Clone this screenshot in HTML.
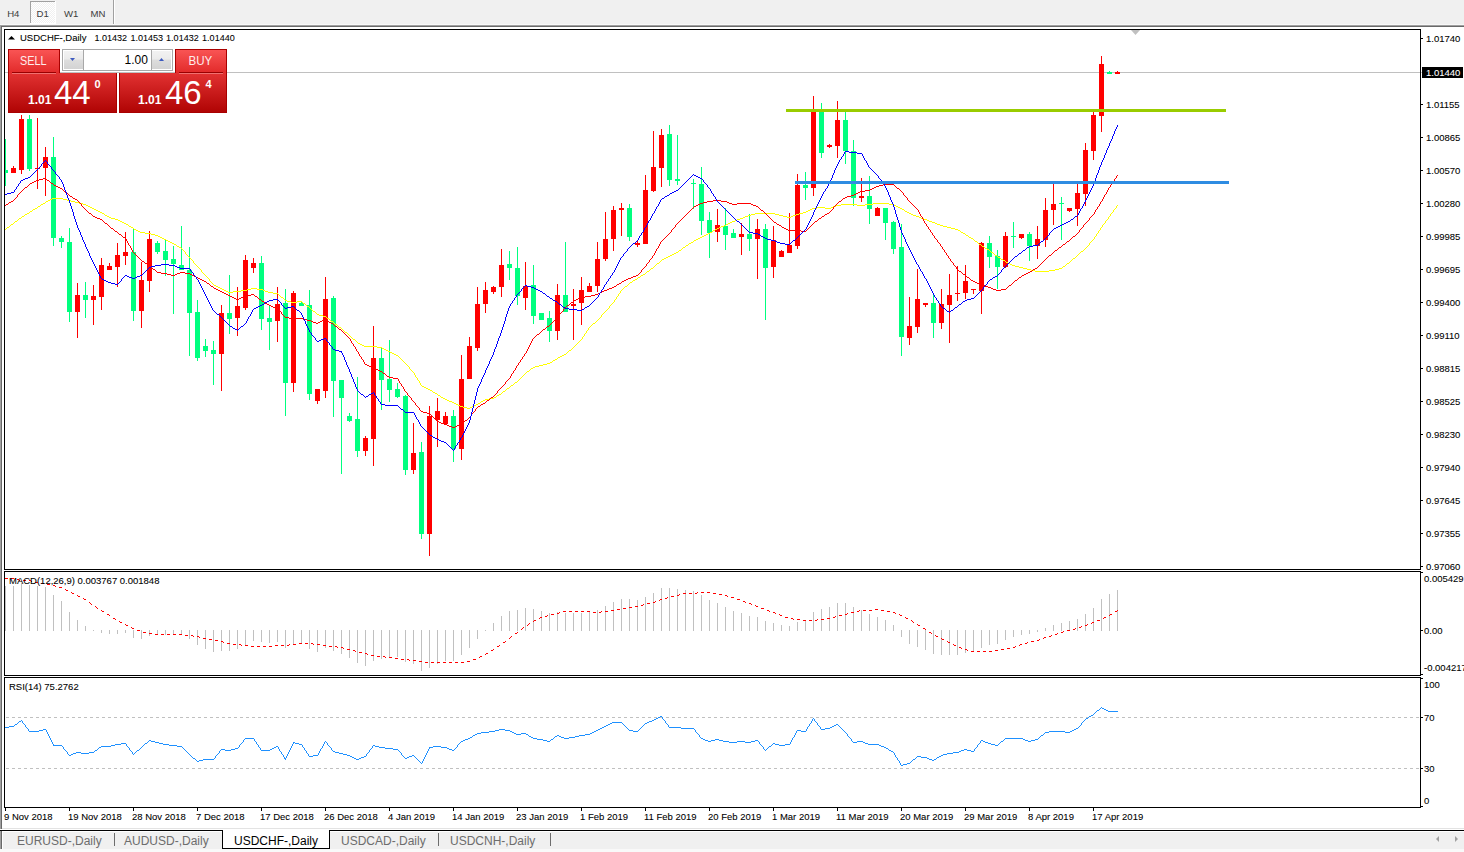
<!DOCTYPE html><html><head><meta charset="utf-8"><style>html,body{margin:0;padding:0;background:#fff;overflow:hidden}svg{display:block}text{font-family:"Liberation Sans", Arial, sans-serif}.s{font-size:9.8px;fill:#000;stroke:#000;stroke-width:0.08px}.w{fill:#fff;stroke:#fff}</style></head><body>
<svg width="1464" height="852" viewBox="0 0 1464 852" shape-rendering="crispEdges">
<defs><clipPath id="cm"><rect x="5" y="30" width="1415" height="539"/></clipPath><clipPath id="cmacd"><rect x="5" y="572" width="1415" height="103"/></clipPath><clipPath id="crsi"><rect x="5" y="678" width="1415" height="129"/></clipPath><linearGradient id="gtab" x1="0" y1="0" x2="0" y2="1"><stop offset="0" stop-color="#f95454"/><stop offset="1" stop-color="#e22a2a"/></linearGradient><linearGradient id="gblk" x1="0" y1="0" x2="0" y2="1"><stop offset="0" stop-color="#e23232"/><stop offset="1" stop-color="#b00404"/></linearGradient><linearGradient id="gbtn" x1="0" y1="0" x2="0" y2="1"><stop offset="0" stop-color="#f2f2f2"/><stop offset="0.45" stop-color="#ebebeb"/><stop offset="0.5" stop-color="#dddddd"/><stop offset="1" stop-color="#d3d3d3"/></linearGradient><pattern id="dith" x="0" y="0" width="2" height="2" patternUnits="userSpaceOnUse"><rect width="2" height="2" fill="#f0f0f0"/><rect x="0" y="0" width="1" height="1" fill="#fff"/><rect x="1" y="1" width="1" height="1" fill="#fff"/></pattern></defs>
<rect x="0" y="0" width="1464" height="24" fill="#f0f0f0"/>
<rect x="0" y="24" width="1464" height="1" fill="#f8f8f8"/>
<rect x="0" y="25" width="1464" height="1" fill="#a0a0a0"/>
<rect x="0" y="26" width="1464" height="1" fill="#696969"/>
<rect x="30" y="1" width="26" height="23" fill="#ffffff"/>
<rect x="31" y="2" width="24" height="21" fill="url(#dith)"/>
<rect x="30" y="1" width="25" height="1" fill="#a0a0a0"/>
<rect x="30" y="1" width="1" height="22" fill="#a0a0a0"/>
<rect x="113" y="0" width="1" height="24" fill="#a0a0a0"/>
<rect x="114" y="0" width="1" height="24" fill="#ffffff"/>
<text x="7.2" y="17" font-size="9.6" fill="#3c3c3c">H4</text>
<text x="36.6" y="17" font-size="9.6" fill="#3c3c3c">D1</text>
<text x="64" y="17" font-size="9.6" fill="#3c3c3c">W1</text>
<text x="90.4" y="17" font-size="9.6" fill="#3c3c3c">MN</text>
<rect x="0" y="25" width="1" height="804" fill="#a0a0a0"/>
<rect x="1" y="26" width="1" height="803" fill="#696969"/>
<rect x="4.5" y="29.5" width="1416" height="540" fill="none" stroke="#000" stroke-width="1"/>
<rect x="4.5" y="571.5" width="1416" height="104" fill="none" stroke="#000" stroke-width="1"/>
<rect x="4.5" y="677.5" width="1416" height="130" fill="none" stroke="#000" stroke-width="1"/>
<rect x="1421" y="38" width="2" height="1" fill="#000"/>
<text transform="translate(1426,42) scale(0.97,1)" class="s">1.01740</text>
<rect x="1421" y="104" width="2" height="1" fill="#000"/>
<text transform="translate(1426,108) scale(0.97,1)" class="s">1.01155</text>
<rect x="1421" y="137" width="2" height="1" fill="#000"/>
<text transform="translate(1426,141) scale(0.97,1)" class="s">1.00865</text>
<rect x="1421" y="170" width="2" height="1" fill="#000"/>
<text transform="translate(1426,174) scale(0.97,1)" class="s">1.00570</text>
<rect x="1421" y="203" width="2" height="1" fill="#000"/>
<text transform="translate(1426,207) scale(0.97,1)" class="s">1.00280</text>
<rect x="1421" y="236" width="2" height="1" fill="#000"/>
<text transform="translate(1426,240) scale(0.97,1)" class="s">0.99985</text>
<rect x="1421" y="269" width="2" height="1" fill="#000"/>
<text transform="translate(1426,273) scale(0.97,1)" class="s">0.99695</text>
<rect x="1421" y="302" width="2" height="1" fill="#000"/>
<text transform="translate(1426,306) scale(0.97,1)" class="s">0.99400</text>
<rect x="1421" y="335" width="2" height="1" fill="#000"/>
<text transform="translate(1426,339) scale(0.97,1)" class="s">0.99110</text>
<rect x="1421" y="368" width="2" height="1" fill="#000"/>
<text transform="translate(1426,372) scale(0.97,1)" class="s">0.98815</text>
<rect x="1421" y="401" width="2" height="1" fill="#000"/>
<text transform="translate(1426,405) scale(0.97,1)" class="s">0.98525</text>
<rect x="1421" y="434" width="2" height="1" fill="#000"/>
<text transform="translate(1426,438) scale(0.97,1)" class="s">0.98230</text>
<rect x="1421" y="467" width="2" height="1" fill="#000"/>
<text transform="translate(1426,471) scale(0.97,1)" class="s">0.97940</text>
<rect x="1421" y="500" width="2" height="1" fill="#000"/>
<text transform="translate(1426,504) scale(0.97,1)" class="s">0.97645</text>
<rect x="1421" y="533" width="2" height="1" fill="#000"/>
<text transform="translate(1426,537) scale(0.97,1)" class="s">0.97355</text>
<rect x="1421" y="566" width="2" height="1" fill="#000"/>
<text transform="translate(1426,570) scale(0.97,1)" class="s">0.97060</text>
<rect x="1422" y="67" width="41" height="11" fill="#000"/>
<text transform="translate(1426,76) scale(0.97,1)" class="s w">1.01440</text>
<rect x="1421" y="72" width="1" height="1" fill="#c0c0c0"/>
<rect x="1421" y="572" width="2" height="1" fill="#000"/>
<rect x="1421" y="630" width="2" height="1" fill="#000"/>
<rect x="1421" y="674" width="2" height="1" fill="#000"/>
<text transform="translate(1424,582) scale(0.97,1)" class="s">0.005429</text>
<text transform="translate(1424,634) scale(0.97,1)" class="s">0.00</text>
<text transform="translate(1424,671) scale(0.97,1)" class="s">-0.004217</text>
<rect x="1421" y="678" width="2" height="1" fill="#000"/>
<text transform="translate(1424,688) scale(0.97,1)" class="s">100</text>
<rect x="1421" y="717" width="2" height="1" fill="#000"/>
<text transform="translate(1424,721) scale(0.97,1)" class="s">70</text>
<rect x="1421" y="768" width="2" height="1" fill="#000"/>
<text transform="translate(1424,772) scale(0.97,1)" class="s">30</text>
<rect x="1421" y="806" width="2" height="1" fill="#000"/>
<text transform="translate(1424,804) scale(0.97,1)" class="s">0</text>
<rect x="5" y="808" width="1" height="3" fill="#000"/>
<text transform="translate(4,820) scale(0.97,1)" class="s">9 Nov 2018</text>
<rect x="69" y="808" width="1" height="3" fill="#000"/>
<text transform="translate(68,820) scale(0.97,1)" class="s">19 Nov 2018</text>
<rect x="133" y="808" width="1" height="3" fill="#000"/>
<text transform="translate(132,820) scale(0.97,1)" class="s">28 Nov 2018</text>
<rect x="197" y="808" width="1" height="3" fill="#000"/>
<text transform="translate(196,820) scale(0.97,1)" class="s">7 Dec 2018</text>
<rect x="261" y="808" width="1" height="3" fill="#000"/>
<text transform="translate(260,820) scale(0.97,1)" class="s">17 Dec 2018</text>
<rect x="325" y="808" width="1" height="3" fill="#000"/>
<text transform="translate(324,820) scale(0.97,1)" class="s">26 Dec 2018</text>
<rect x="389" y="808" width="1" height="3" fill="#000"/>
<text transform="translate(388,820) scale(0.97,1)" class="s">4 Jan 2019</text>
<rect x="453" y="808" width="1" height="3" fill="#000"/>
<text transform="translate(452,820) scale(0.97,1)" class="s">14 Jan 2019</text>
<rect x="517" y="808" width="1" height="3" fill="#000"/>
<text transform="translate(516,820) scale(0.97,1)" class="s">23 Jan 2019</text>
<rect x="581" y="808" width="1" height="3" fill="#000"/>
<text transform="translate(580,820) scale(0.97,1)" class="s">1 Feb 2019</text>
<rect x="645" y="808" width="1" height="3" fill="#000"/>
<text transform="translate(644,820) scale(0.97,1)" class="s">11 Feb 2019</text>
<rect x="709" y="808" width="1" height="3" fill="#000"/>
<text transform="translate(708,820) scale(0.97,1)" class="s">20 Feb 2019</text>
<rect x="773" y="808" width="1" height="3" fill="#000"/>
<text transform="translate(772,820) scale(0.97,1)" class="s">1 Mar 2019</text>
<rect x="837" y="808" width="1" height="3" fill="#000"/>
<text transform="translate(836,820) scale(0.97,1)" class="s">11 Mar 2019</text>
<rect x="901" y="808" width="1" height="3" fill="#000"/>
<text transform="translate(900,820) scale(0.97,1)" class="s">20 Mar 2019</text>
<rect x="965" y="808" width="1" height="3" fill="#000"/>
<text transform="translate(964,820) scale(0.97,1)" class="s">29 Mar 2019</text>
<rect x="1029" y="808" width="1" height="3" fill="#000"/>
<text transform="translate(1028,820) scale(0.97,1)" class="s">8 Apr 2019</text>
<rect x="1093" y="808" width="1" height="3" fill="#000"/>
<text transform="translate(1092,820) scale(0.97,1)" class="s">17 Apr 2019</text>
<rect x="2" y="828" width="1464" height="1" fill="#e3e3e3"/>
<rect x="0" y="829" width="1464" height="1" fill="#ffffff"/>
<rect x="0" y="830" width="1464" height="1" fill="#000"/>
<rect x="0" y="831" width="1464" height="18" fill="#f0f0f0"/>
<rect x="0" y="849" width="1464" height="3" fill="#f9f9f9"/>
<rect x="0" y="831" width="1" height="18" fill="#a0a0a0"/>
<rect x="1" y="831" width="1" height="18" fill="#696969"/>
<rect x="2" y="831" width="1" height="18" fill="#ffffff"/>
<rect x="2" y="831" width="1464" height="1" fill="#ffffff"/>
<rect x="222" y="830" width="108" height="19" fill="#000"/>
<rect x="223" y="830" width="106" height="18" fill="#ffffff"/>
<text x="17" y="845" font-size="12" fill="#6d6d6d">EURUSD-,Daily</text>
<text x="124" y="845" font-size="12" fill="#6d6d6d">AUDUSD-,Daily</text>
<text x="234" y="845" font-size="12" fill="#000">USDCHF-,Daily</text>
<text x="341" y="845" font-size="12" fill="#6d6d6d">USDCAD-,Daily</text>
<text x="450" y="845" font-size="12" fill="#6d6d6d">USDCNH-,Daily</text>
<rect x="114" y="833" width="1" height="13" fill="#6d6d6d"/>
<rect x="438" y="833" width="1" height="13" fill="#6d6d6d"/>
<rect x="550" y="833" width="1" height="13" fill="#6d6d6d"/>
<path d="M1439,836 L1436,839 L1439,842 Z" fill="#a0a0a0" shape-rendering="auto"/>
<path d="M1455,836 L1458,839 L1455,842 Z" fill="#a0a0a0" shape-rendering="auto"/>
<g clip-path="url(#cm)">
<rect x="5" y="72" width="1415" height="1" fill="#c0c0c0"/>
<path d="M1131,30 L1140,30 L1135.5,35 Z" fill="#c0c0c0" shape-rendering="auto"/>
<rect x="5" y="139" width="1" height="47" fill="#00ff7f"/>
<rect x="3" y="170" width="5" height="3" fill="#00ff7f"/>
<rect x="13" y="166" width="1" height="7" fill="#ff0000"/>
<rect x="11" y="168" width="5" height="5" fill="#ff0000"/>
<rect x="21" y="115" width="1" height="59" fill="#ff0000"/>
<rect x="19" y="119" width="5" height="51" fill="#ff0000"/>
<rect x="29" y="115" width="1" height="56" fill="#00ff7f"/>
<rect x="27" y="119" width="5" height="50" fill="#00ff7f"/>
<rect x="37" y="118" width="1" height="71" fill="#ff0000"/>
<rect x="35" y="168" width="5" height="1" fill="#ff0000"/>
<rect x="45" y="147" width="1" height="49" fill="#ff0000"/>
<rect x="43" y="157" width="5" height="11" fill="#ff0000"/>
<rect x="53" y="137" width="1" height="109" fill="#00ff7f"/>
<rect x="51" y="157" width="5" height="81" fill="#00ff7f"/>
<rect x="61" y="236" width="1" height="12" fill="#00ff7f"/>
<rect x="59" y="238" width="5" height="4" fill="#00ff7f"/>
<rect x="69" y="228" width="1" height="94" fill="#00ff7f"/>
<rect x="67" y="242" width="5" height="70" fill="#00ff7f"/>
<rect x="77" y="283" width="1" height="55" fill="#ff0000"/>
<rect x="75" y="295" width="5" height="17" fill="#ff0000"/>
<rect x="85" y="282" width="1" height="36" fill="#00ff7f"/>
<rect x="83" y="295" width="5" height="5" fill="#00ff7f"/>
<rect x="93" y="285" width="1" height="40" fill="#ff0000"/>
<rect x="91" y="296" width="5" height="4" fill="#ff0000"/>
<rect x="101" y="258" width="1" height="52" fill="#ff0000"/>
<rect x="99" y="265" width="5" height="32" fill="#ff0000"/>
<rect x="109" y="263" width="1" height="7" fill="#ff0000"/>
<rect x="107" y="266" width="5" height="4" fill="#ff0000"/>
<rect x="117" y="243" width="1" height="44" fill="#ff0000"/>
<rect x="115" y="255" width="5" height="12" fill="#ff0000"/>
<rect x="125" y="232" width="1" height="33" fill="#ff0000"/>
<rect x="123" y="252" width="5" height="4" fill="#ff0000"/>
<rect x="133" y="229" width="1" height="92" fill="#00ff7f"/>
<rect x="131" y="252" width="5" height="59" fill="#00ff7f"/>
<rect x="141" y="262" width="1" height="66" fill="#ff0000"/>
<rect x="139" y="280" width="5" height="31" fill="#ff0000"/>
<rect x="149" y="231" width="1" height="61" fill="#ff0000"/>
<rect x="147" y="239" width="5" height="42" fill="#ff0000"/>
<rect x="157" y="241" width="1" height="13" fill="#00ff7f"/>
<rect x="155" y="243" width="5" height="9" fill="#00ff7f"/>
<rect x="165" y="240" width="1" height="36" fill="#00ff7f"/>
<rect x="163" y="251" width="5" height="9" fill="#00ff7f"/>
<rect x="173" y="246" width="1" height="68" fill="#00ff7f"/>
<rect x="171" y="259" width="5" height="5" fill="#00ff7f"/>
<rect x="181" y="226" width="1" height="44" fill="#00ff7f"/>
<rect x="179" y="265" width="5" height="5" fill="#00ff7f"/>
<rect x="189" y="247" width="1" height="109" fill="#00ff7f"/>
<rect x="187" y="270" width="5" height="43" fill="#00ff7f"/>
<rect x="197" y="300" width="1" height="61" fill="#00ff7f"/>
<rect x="195" y="312" width="5" height="46" fill="#00ff7f"/>
<rect x="205" y="339" width="1" height="18" fill="#00ff7f"/>
<rect x="203" y="346" width="5" height="5" fill="#00ff7f"/>
<rect x="213" y="341" width="1" height="44" fill="#00ff7f"/>
<rect x="211" y="350" width="5" height="4" fill="#00ff7f"/>
<rect x="221" y="305" width="1" height="86" fill="#ff0000"/>
<rect x="219" y="313" width="5" height="41" fill="#ff0000"/>
<rect x="229" y="275" width="1" height="59" fill="#00ff7f"/>
<rect x="227" y="313" width="5" height="6" fill="#00ff7f"/>
<rect x="237" y="287" width="1" height="49" fill="#ff0000"/>
<rect x="235" y="306" width="5" height="12" fill="#ff0000"/>
<rect x="245" y="255" width="1" height="55" fill="#ff0000"/>
<rect x="243" y="260" width="5" height="48" fill="#ff0000"/>
<rect x="253" y="258" width="1" height="15" fill="#ff0000"/>
<rect x="251" y="263" width="5" height="5" fill="#ff0000"/>
<rect x="261" y="256" width="1" height="74" fill="#00ff7f"/>
<rect x="259" y="263" width="5" height="56" fill="#00ff7f"/>
<rect x="269" y="306" width="1" height="44" fill="#00ff7f"/>
<rect x="267" y="318" width="5" height="4" fill="#00ff7f"/>
<rect x="277" y="287" width="1" height="55" fill="#ff0000"/>
<rect x="275" y="304" width="5" height="17" fill="#ff0000"/>
<rect x="285" y="289" width="1" height="127" fill="#00ff7f"/>
<rect x="283" y="303" width="5" height="80" fill="#00ff7f"/>
<rect x="293" y="291" width="1" height="101" fill="#ff0000"/>
<rect x="291" y="293" width="5" height="90" fill="#ff0000"/>
<rect x="301" y="301" width="1" height="5" fill="#00ff7f"/>
<rect x="299" y="303" width="5" height="3" fill="#00ff7f"/>
<rect x="309" y="290" width="1" height="110" fill="#00ff7f"/>
<rect x="307" y="305" width="5" height="89" fill="#00ff7f"/>
<rect x="317" y="389" width="1" height="15" fill="#ff0000"/>
<rect x="315" y="389" width="5" height="12" fill="#ff0000"/>
<rect x="325" y="277" width="1" height="121" fill="#ff0000"/>
<rect x="323" y="299" width="5" height="92" fill="#ff0000"/>
<rect x="333" y="296" width="1" height="121" fill="#00ff7f"/>
<rect x="331" y="298" width="5" height="83" fill="#00ff7f"/>
<rect x="341" y="380" width="1" height="94" fill="#00ff7f"/>
<rect x="339" y="380" width="5" height="18" fill="#00ff7f"/>
<rect x="349" y="413" width="1" height="9" fill="#00ff7f"/>
<rect x="347" y="416" width="5" height="5" fill="#00ff7f"/>
<rect x="357" y="377" width="1" height="80" fill="#00ff7f"/>
<rect x="355" y="419" width="5" height="32" fill="#00ff7f"/>
<rect x="365" y="436" width="1" height="20" fill="#ff0000"/>
<rect x="363" y="438" width="5" height="13" fill="#ff0000"/>
<rect x="373" y="326" width="1" height="140" fill="#ff0000"/>
<rect x="371" y="358" width="5" height="81" fill="#ff0000"/>
<rect x="381" y="348" width="1" height="62" fill="#00ff7f"/>
<rect x="379" y="358" width="5" height="22" fill="#00ff7f"/>
<rect x="389" y="340" width="1" height="62" fill="#00ff7f"/>
<rect x="387" y="379" width="5" height="11" fill="#00ff7f"/>
<rect x="397" y="383" width="1" height="15" fill="#00ff7f"/>
<rect x="395" y="389" width="5" height="8" fill="#00ff7f"/>
<rect x="405" y="395" width="1" height="80" fill="#00ff7f"/>
<rect x="403" y="396" width="5" height="74" fill="#00ff7f"/>
<rect x="413" y="423" width="1" height="51" fill="#ff0000"/>
<rect x="411" y="453" width="5" height="17" fill="#ff0000"/>
<rect x="421" y="442" width="1" height="97" fill="#00ff7f"/>
<rect x="419" y="452" width="5" height="82" fill="#00ff7f"/>
<rect x="429" y="406" width="1" height="150" fill="#ff0000"/>
<rect x="427" y="416" width="5" height="118" fill="#ff0000"/>
<rect x="437" y="398" width="1" height="49" fill="#ff0000"/>
<rect x="435" y="411" width="5" height="9" fill="#ff0000"/>
<rect x="445" y="412" width="1" height="12" fill="#ff0000"/>
<rect x="443" y="416" width="5" height="8" fill="#ff0000"/>
<rect x="453" y="410" width="1" height="52" fill="#00ff7f"/>
<rect x="451" y="416" width="5" height="33" fill="#00ff7f"/>
<rect x="461" y="355" width="1" height="105" fill="#ff0000"/>
<rect x="459" y="379" width="5" height="70" fill="#ff0000"/>
<rect x="469" y="337" width="1" height="42" fill="#ff0000"/>
<rect x="467" y="346" width="5" height="33" fill="#ff0000"/>
<rect x="477" y="287" width="1" height="64" fill="#ff0000"/>
<rect x="475" y="304" width="5" height="44" fill="#ff0000"/>
<rect x="485" y="282" width="1" height="31" fill="#ff0000"/>
<rect x="483" y="290" width="5" height="14" fill="#ff0000"/>
<rect x="493" y="286" width="1" height="8" fill="#ff0000"/>
<rect x="491" y="287" width="5" height="5" fill="#ff0000"/>
<rect x="501" y="249" width="1" height="48" fill="#ff0000"/>
<rect x="499" y="265" width="5" height="22" fill="#ff0000"/>
<rect x="509" y="251" width="1" height="29" fill="#00ff7f"/>
<rect x="507" y="264" width="5" height="4" fill="#00ff7f"/>
<rect x="517" y="247" width="1" height="58" fill="#00ff7f"/>
<rect x="515" y="268" width="5" height="28" fill="#00ff7f"/>
<rect x="525" y="262" width="1" height="48" fill="#ff0000"/>
<rect x="523" y="286" width="5" height="12" fill="#ff0000"/>
<rect x="533" y="265" width="1" height="59" fill="#00ff7f"/>
<rect x="531" y="285" width="5" height="31" fill="#00ff7f"/>
<rect x="541" y="313" width="1" height="7" fill="#00ff7f"/>
<rect x="539" y="313" width="5" height="7" fill="#00ff7f"/>
<rect x="549" y="311" width="1" height="31" fill="#00ff7f"/>
<rect x="547" y="318" width="5" height="13" fill="#00ff7f"/>
<rect x="557" y="284" width="1" height="56" fill="#ff0000"/>
<rect x="555" y="295" width="5" height="36" fill="#ff0000"/>
<rect x="565" y="242" width="1" height="70" fill="#00ff7f"/>
<rect x="563" y="295" width="5" height="17" fill="#00ff7f"/>
<rect x="573" y="289" width="1" height="51" fill="#ff0000"/>
<rect x="571" y="304" width="5" height="2" fill="#ff0000"/>
<rect x="581" y="277" width="1" height="48" fill="#ff0000"/>
<rect x="579" y="290" width="5" height="13" fill="#ff0000"/>
<rect x="589" y="283" width="1" height="9" fill="#ff0000"/>
<rect x="587" y="286" width="5" height="6" fill="#ff0000"/>
<rect x="597" y="242" width="1" height="50" fill="#ff0000"/>
<rect x="595" y="259" width="5" height="27" fill="#ff0000"/>
<rect x="605" y="212" width="1" height="49" fill="#ff0000"/>
<rect x="603" y="239" width="5" height="20" fill="#ff0000"/>
<rect x="613" y="206" width="1" height="45" fill="#ff0000"/>
<rect x="611" y="210" width="5" height="29" fill="#ff0000"/>
<rect x="621" y="203" width="1" height="33" fill="#ff0000"/>
<rect x="619" y="208" width="5" height="2" fill="#ff0000"/>
<rect x="629" y="204" width="1" height="37" fill="#00ff7f"/>
<rect x="627" y="208" width="5" height="29" fill="#00ff7f"/>
<rect x="637" y="241" width="1" height="6" fill="#ff0000"/>
<rect x="635" y="243" width="5" height="2" fill="#ff0000"/>
<rect x="645" y="175" width="1" height="69" fill="#ff0000"/>
<rect x="643" y="190" width="5" height="54" fill="#ff0000"/>
<rect x="653" y="131" width="1" height="61" fill="#ff0000"/>
<rect x="651" y="167" width="5" height="24" fill="#ff0000"/>
<rect x="661" y="129" width="1" height="58" fill="#ff0000"/>
<rect x="659" y="135" width="5" height="33" fill="#ff0000"/>
<rect x="669" y="125" width="1" height="61" fill="#00ff7f"/>
<rect x="667" y="134" width="5" height="46" fill="#00ff7f"/>
<rect x="677" y="135" width="1" height="50" fill="#00ff7f"/>
<rect x="675" y="179" width="5" height="2" fill="#00ff7f"/>
<rect x="693" y="179" width="1" height="30" fill="#00ff7f"/>
<rect x="691" y="183" width="5" height="1" fill="#00ff7f"/>
<rect x="701" y="167" width="1" height="68" fill="#00ff7f"/>
<rect x="699" y="184" width="5" height="37" fill="#00ff7f"/>
<rect x="709" y="212" width="1" height="46" fill="#00ff7f"/>
<rect x="707" y="220" width="5" height="13" fill="#00ff7f"/>
<rect x="717" y="209" width="1" height="33" fill="#ff0000"/>
<rect x="715" y="225" width="5" height="7" fill="#ff0000"/>
<rect x="725" y="208" width="1" height="42" fill="#00ff7f"/>
<rect x="723" y="226" width="5" height="9" fill="#00ff7f"/>
<rect x="733" y="229" width="1" height="9" fill="#00ff7f"/>
<rect x="731" y="233" width="5" height="5" fill="#00ff7f"/>
<rect x="741" y="223" width="1" height="32" fill="#ff0000"/>
<rect x="739" y="234" width="5" height="3" fill="#ff0000"/>
<rect x="749" y="214" width="1" height="37" fill="#00ff7f"/>
<rect x="747" y="234" width="5" height="5" fill="#00ff7f"/>
<rect x="757" y="219" width="1" height="60" fill="#ff0000"/>
<rect x="755" y="229" width="5" height="10" fill="#ff0000"/>
<rect x="765" y="224" width="1" height="96" fill="#00ff7f"/>
<rect x="763" y="229" width="5" height="39" fill="#00ff7f"/>
<rect x="773" y="226" width="1" height="52" fill="#ff0000"/>
<rect x="771" y="240" width="5" height="27" fill="#ff0000"/>
<rect x="781" y="250" width="1" height="7" fill="#ff0000"/>
<rect x="779" y="251" width="5" height="6" fill="#ff0000"/>
<rect x="789" y="213" width="1" height="40" fill="#ff0000"/>
<rect x="787" y="245" width="5" height="8" fill="#ff0000"/>
<rect x="797" y="174" width="1" height="75" fill="#ff0000"/>
<rect x="795" y="185" width="5" height="61" fill="#ff0000"/>
<rect x="805" y="172" width="1" height="28" fill="#00ff7f"/>
<rect x="803" y="185" width="5" height="3" fill="#00ff7f"/>
<rect x="813" y="96" width="1" height="100" fill="#ff0000"/>
<rect x="811" y="112" width="5" height="76" fill="#ff0000"/>
<rect x="821" y="103" width="1" height="55" fill="#00ff7f"/>
<rect x="819" y="112" width="5" height="41" fill="#00ff7f"/>
<rect x="829" y="144" width="1" height="4" fill="#ff0000"/>
<rect x="827" y="145" width="5" height="2" fill="#ff0000"/>
<rect x="837" y="101" width="1" height="57" fill="#ff0000"/>
<rect x="835" y="120" width="5" height="26" fill="#ff0000"/>
<rect x="845" y="111" width="1" height="53" fill="#00ff7f"/>
<rect x="843" y="120" width="5" height="31" fill="#00ff7f"/>
<rect x="853" y="140" width="1" height="66" fill="#00ff7f"/>
<rect x="851" y="151" width="5" height="47" fill="#00ff7f"/>
<rect x="861" y="178" width="1" height="24" fill="#ff0000"/>
<rect x="859" y="196" width="5" height="2" fill="#ff0000"/>
<rect x="869" y="176" width="1" height="48" fill="#00ff7f"/>
<rect x="867" y="196" width="5" height="13" fill="#00ff7f"/>
<rect x="877" y="207" width="1" height="9" fill="#ff0000"/>
<rect x="875" y="208" width="5" height="8" fill="#ff0000"/>
<rect x="885" y="208" width="1" height="32" fill="#00ff7f"/>
<rect x="883" y="208" width="5" height="15" fill="#00ff7f"/>
<rect x="893" y="221" width="1" height="33" fill="#00ff7f"/>
<rect x="891" y="222" width="5" height="27" fill="#00ff7f"/>
<rect x="901" y="224" width="1" height="132" fill="#00ff7f"/>
<rect x="899" y="247" width="5" height="90" fill="#00ff7f"/>
<rect x="909" y="297" width="1" height="48" fill="#ff0000"/>
<rect x="907" y="326" width="5" height="12" fill="#ff0000"/>
<rect x="917" y="269" width="1" height="64" fill="#ff0000"/>
<rect x="915" y="299" width="5" height="28" fill="#ff0000"/>
<rect x="925" y="303" width="1" height="4" fill="#ff0000"/>
<rect x="923" y="303" width="5" height="2" fill="#ff0000"/>
<rect x="933" y="294" width="1" height="44" fill="#00ff7f"/>
<rect x="931" y="303" width="5" height="20" fill="#00ff7f"/>
<rect x="941" y="289" width="1" height="40" fill="#ff0000"/>
<rect x="939" y="304" width="5" height="19" fill="#ff0000"/>
<rect x="949" y="274" width="1" height="69" fill="#ff0000"/>
<rect x="947" y="295" width="5" height="10" fill="#ff0000"/>
<rect x="957" y="266" width="1" height="35" fill="#ff0000"/>
<rect x="955" y="293" width="5" height="1" fill="#ff0000"/>
<rect x="965" y="265" width="1" height="34" fill="#ff0000"/>
<rect x="963" y="281" width="5" height="12" fill="#ff0000"/>
<rect x="973" y="289" width="1" height="5" fill="#ff0000"/>
<rect x="971" y="289" width="5" height="1" fill="#ff0000"/>
<rect x="981" y="242" width="1" height="72" fill="#ff0000"/>
<rect x="979" y="243" width="5" height="48" fill="#ff0000"/>
<rect x="989" y="236" width="1" height="32" fill="#00ff7f"/>
<rect x="987" y="243" width="5" height="14" fill="#00ff7f"/>
<rect x="997" y="250" width="1" height="39" fill="#00ff7f"/>
<rect x="995" y="256" width="5" height="11" fill="#00ff7f"/>
<rect x="1005" y="232" width="1" height="36" fill="#ff0000"/>
<rect x="1003" y="236" width="5" height="31" fill="#ff0000"/>
<rect x="1013" y="222" width="1" height="26" fill="#00ff7f"/>
<rect x="1011" y="236" width="5" height="1" fill="#00ff7f"/>
<rect x="1021" y="234" width="1" height="5" fill="#ff0000"/>
<rect x="1019" y="234" width="5" height="4" fill="#ff0000"/>
<rect x="1029" y="232" width="1" height="29" fill="#00ff7f"/>
<rect x="1027" y="234" width="5" height="12" fill="#00ff7f"/>
<rect x="1037" y="226" width="1" height="33" fill="#ff0000"/>
<rect x="1035" y="239" width="5" height="7" fill="#ff0000"/>
<rect x="1045" y="198" width="1" height="49" fill="#ff0000"/>
<rect x="1043" y="210" width="5" height="30" fill="#ff0000"/>
<rect x="1053" y="184" width="1" height="41" fill="#ff0000"/>
<rect x="1051" y="204" width="5" height="6" fill="#ff0000"/>
<rect x="1061" y="197" width="1" height="43" fill="#00ff7f"/>
<rect x="1059" y="203" width="5" height="1" fill="#00ff7f"/>
<rect x="1069" y="208" width="1" height="4" fill="#ff0000"/>
<rect x="1067" y="208" width="5" height="3" fill="#ff0000"/>
<rect x="1077" y="184" width="1" height="42" fill="#ff0000"/>
<rect x="1075" y="193" width="5" height="16" fill="#ff0000"/>
<rect x="1085" y="143" width="1" height="63" fill="#ff0000"/>
<rect x="1083" y="150" width="5" height="44" fill="#ff0000"/>
<rect x="1093" y="112" width="1" height="48" fill="#ff0000"/>
<rect x="1091" y="115" width="5" height="36" fill="#ff0000"/>
<rect x="1101" y="56" width="1" height="76" fill="#ff0000"/>
<rect x="1099" y="64" width="5" height="52" fill="#ff0000"/>
<rect x="1109" y="71" width="1" height="3" fill="#00ff7f"/>
<rect x="1107" y="72" width="5" height="2" fill="#00ff7f"/>
<rect x="1117" y="71" width="1" height="3" fill="#ff0000"/>
<rect x="1115" y="72" width="5" height="2" fill="#ff0000"/>
<path d="M52,198h11v1h-11zM50,199h2v1h-2zM63,199h4v1h-4zM48,200h2v1h-2zM67,200h4v1h-4zM46,201h2v1h-2zM71,201h4v1h-4zM45,202h1v1h-1zM75,202h4v1h-4zM43,203h2v1h-2zM79,203h4v1h-4zM873,203h16v1h-16zM41,204h2v1h-2zM83,204h3v1h-3zM841,204h16v1h-16zM865,204h8v1h-8zM889,204h5v1h-5zM40,205h1v1h-1zM86,205h2v1h-2zM836,205h5v1h-5zM857,205h8v1h-8zM894,205h2v1h-2zM1117,205h1v1h-1zM38,206h2v1h-2zM88,206h2v1h-2zM833,206h3v1h-3zM896,206h2v1h-2zM1116,206h1v1h-1zM37,207h1v1h-1zM90,207h2v1h-2zM817,207h8v1h-8zM831,207h2v1h-2zM898,207h2v1h-2zM1116,207h1v1h-1zM35,208h2v1h-2zM92,208h2v1h-2zM812,208h5v1h-5zM825,208h6v1h-6zM900,208h2v1h-2zM1115,208h1v1h-1zM33,209h2v1h-2zM94,209h2v1h-2zM810,209h2v1h-2zM902,209h2v1h-2zM1114,209h1v1h-1zM32,210h1v1h-1zM96,210h2v1h-2zM808,210h2v1h-2zM904,210h1v1h-1zM1113,210h1v1h-1zM30,211h2v1h-2zM98,211h2v1h-2zM806,211h2v1h-2zM905,211h2v1h-2zM1113,211h1v1h-1zM29,212h1v1h-1zM100,212h2v1h-2zM803,212h3v1h-3zM907,212h2v1h-2zM1112,212h1v1h-1zM27,213h2v1h-2zM102,213h2v1h-2zM755,213h20v1h-20zM799,213h4v1h-4zM909,213h2v1h-2zM1111,213h1v1h-1zM25,214h2v1h-2zM104,214h1v1h-1zM751,214h4v1h-4zM775,214h4v1h-4zM796,214h3v1h-3zM911,214h2v1h-2zM1110,214h1v1h-1zM24,215h1v1h-1zM105,215h2v1h-2zM748,215h3v1h-3zM779,215h4v1h-4zM793,215h3v1h-3zM913,215h3v1h-3zM1110,215h1v1h-1zM22,216h2v1h-2zM107,216h2v1h-2zM745,216h3v1h-3zM783,216h4v1h-4zM791,216h2v1h-2zM916,216h3v1h-3zM1109,216h1v1h-1zM21,217h1v1h-1zM109,217h2v1h-2zM743,217h2v1h-2zM787,217h4v1h-4zM919,217h2v1h-2zM1108,217h1v1h-1zM19,218h2v1h-2zM111,218h4v1h-4zM740,218h3v1h-3zM921,218h3v1h-3zM1108,218h1v1h-1zM18,219h1v1h-1zM115,219h3v1h-3zM737,219h3v1h-3zM924,219h3v1h-3zM1107,219h1v1h-1zM17,220h1v1h-1zM118,220h2v1h-2zM735,220h2v1h-2zM927,220h2v1h-2zM1106,220h1v1h-1zM15,221h2v1h-2zM120,221h2v1h-2zM732,221h3v1h-3zM929,221h3v1h-3zM1105,221h1v1h-1zM14,222h1v1h-1zM122,222h2v1h-2zM730,222h2v1h-2zM932,222h3v1h-3zM1105,222h1v1h-1zM13,223h1v1h-1zM124,223h2v1h-2zM728,223h2v1h-2zM935,223h2v1h-2zM1104,223h1v1h-1zM11,224h2v1h-2zM126,224h2v1h-2zM726,224h2v1h-2zM937,224h3v1h-3zM1103,224h1v1h-1zM10,225h1v1h-1zM128,225h1v1h-1zM724,225h2v1h-2zM940,225h3v1h-3zM1102,225h1v1h-1zM9,226h1v1h-1zM129,226h2v1h-2zM721,226h3v1h-3zM943,226h4v1h-4zM1102,226h1v1h-1zM7,227h2v1h-2zM131,227h2v1h-2zM719,227h2v1h-2zM947,227h4v1h-4zM1101,227h1v1h-1zM6,228h1v1h-1zM133,228h1v1h-1zM717,228h2v1h-2zM951,228h4v1h-4zM1100,228h1v1h-1zM5,229h1v1h-1zM134,229h2v1h-2zM715,229h2v1h-2zM955,229h3v1h-3zM1100,229h1v1h-1zM136,230h2v1h-2zM713,230h2v1h-2zM958,230h2v1h-2zM1099,230h1v1h-1zM138,231h2v1h-2zM712,231h1v1h-1zM960,231h1v1h-1zM1098,231h1v1h-1zM140,232h5v1h-5zM710,232h2v1h-2zM961,232h2v1h-2zM1098,232h1v1h-1zM145,233h6v1h-6zM708,233h2v1h-2zM963,233h2v1h-2zM1097,233h1v1h-1zM151,234h4v1h-4zM706,234h2v1h-2zM965,234h1v1h-1zM1096,234h1v1h-1zM155,235h3v1h-3zM704,235h2v1h-2zM966,235h2v1h-2zM1096,235h1v1h-1zM158,236h2v1h-2zM702,236h2v1h-2zM968,236h1v1h-1zM1095,236h1v1h-1zM160,237h2v1h-2zM700,237h2v1h-2zM969,237h2v1h-2zM1094,237h1v1h-1zM162,238h2v1h-2zM698,238h2v1h-2zM971,238h2v1h-2zM1094,238h1v1h-1zM164,239h2v1h-2zM696,239h2v1h-2zM973,239h1v1h-1zM1093,239h1v1h-1zM166,240h2v1h-2zM694,240h2v1h-2zM974,240h1v1h-1zM1092,240h1v1h-1zM168,241h2v1h-2zM693,241h1v1h-1zM975,241h2v1h-2zM1091,241h1v1h-1zM170,242h2v1h-2zM691,242h2v1h-2zM977,242h1v1h-1zM1090,242h1v1h-1zM172,243h2v1h-2zM689,243h2v1h-2zM978,243h1v1h-1zM1089,243h1v1h-1zM174,244h2v1h-2zM688,244h1v1h-1zM979,244h2v1h-2zM1089,244h1v1h-1zM176,245h1v1h-1zM686,245h2v1h-2zM981,245h1v1h-1zM1088,245h1v1h-1zM177,246h2v1h-2zM685,246h1v1h-1zM982,246h2v1h-2zM1087,246h1v1h-1zM179,247h2v1h-2zM683,247h2v1h-2zM984,247h1v1h-1zM1086,247h1v1h-1zM181,248h1v1h-1zM682,248h1v1h-1zM985,248h2v1h-2zM1085,248h1v1h-1zM182,249h1v1h-1zM681,249h1v1h-1zM987,249h2v1h-2zM1084,249h1v1h-1zM183,250h1v1h-1zM679,250h2v1h-2zM989,250h1v1h-1zM1083,250h1v1h-1zM184,251h1v1h-1zM678,251h1v1h-1zM990,251h1v1h-1zM1081,251h2v1h-2zM185,252h1v1h-1zM676,252h2v1h-2zM991,252h2v1h-2zM1080,252h1v1h-1zM185,253h1v1h-1zM674,253h2v1h-2zM993,253h1v1h-1zM1079,253h1v1h-1zM186,254h1v1h-1zM672,254h2v1h-2zM994,254h1v1h-1zM1078,254h1v1h-1zM187,255h1v1h-1zM670,255h2v1h-2zM995,255h2v1h-2zM1077,255h1v1h-1zM188,256h1v1h-1zM668,256h2v1h-2zM997,256h1v1h-1zM1076,256h1v1h-1zM189,257h1v1h-1zM666,257h2v1h-2zM998,257h2v1h-2zM1075,257h1v1h-1zM190,258h1v1h-1zM664,258h2v1h-2zM1000,258h1v1h-1zM1073,258h2v1h-2zM191,259h1v1h-1zM662,259h2v1h-2zM1001,259h2v1h-2zM1072,259h1v1h-1zM192,260h1v1h-1zM661,260h1v1h-1zM1003,260h2v1h-2zM1071,260h1v1h-1zM193,261h1v1h-1zM660,261h1v1h-1zM1005,261h1v1h-1zM1070,261h1v1h-1zM193,262h1v1h-1zM659,262h1v1h-1zM1006,262h2v1h-2zM1069,262h1v1h-1zM194,263h1v1h-1zM657,263h2v1h-2zM1008,263h2v1h-2zM1067,263h2v1h-2zM195,264h1v1h-1zM656,264h1v1h-1zM1010,264h2v1h-2zM1066,264h1v1h-1zM196,265h1v1h-1zM655,265h1v1h-1zM1012,265h3v1h-3zM1065,265h1v1h-1zM197,266h1v1h-1zM654,266h1v1h-1zM1015,266h4v1h-4zM1063,266h2v1h-2zM198,267h1v1h-1zM653,267h1v1h-1zM1019,267h4v1h-4zM1062,267h1v1h-1zM199,268h1v1h-1zM651,268h2v1h-2zM1023,268h4v1h-4zM1059,268h3v1h-3zM200,269h1v1h-1zM650,269h1v1h-1zM1027,269h4v1h-4zM1055,269h4v1h-4zM201,270h1v1h-1zM649,270h1v1h-1zM1031,270h4v1h-4zM1049,270h6v1h-6zM201,271h1v1h-1zM647,271h2v1h-2zM1035,271h14v1h-14zM202,272h1v1h-1zM646,272h1v1h-1zM203,273h1v1h-1zM645,273h1v1h-1zM204,274h1v1h-1zM643,274h2v1h-2zM205,275h1v1h-1zM641,275h2v1h-2zM206,276h1v1h-1zM640,276h1v1h-1zM207,277h1v1h-1zM638,277h2v1h-2zM208,278h1v1h-1zM637,278h1v1h-1zM209,279h1v1h-1zM635,279h2v1h-2zM209,280h1v1h-1zM633,280h2v1h-2zM210,281h1v1h-1zM632,281h1v1h-1zM211,282h1v1h-1zM630,282h2v1h-2zM212,283h1v1h-1zM629,283h1v1h-1zM213,284h1v1h-1zM628,284h1v1h-1zM214,285h2v1h-2zM627,285h1v1h-1zM216,286h2v1h-2zM625,286h2v1h-2zM218,287h2v1h-2zM624,287h1v1h-1zM220,288h2v1h-2zM251,288h6v1h-6zM623,288h1v1h-1zM222,289h2v1h-2zM247,289h4v1h-4zM257,289h6v1h-6zM622,289h1v1h-1zM224,290h2v1h-2zM241,290h6v1h-6zM263,290h2v1h-2zM621,290h1v1h-1zM226,291h2v1h-2zM233,291h8v1h-8zM265,291h3v1h-3zM620,291h1v1h-1zM228,292h5v1h-5zM268,292h5v1h-5zM620,292h1v1h-1zM273,293h5v1h-5zM619,293h1v1h-1zM278,294h1v1h-1zM618,294h1v1h-1zM279,295h1v1h-1zM618,295h1v1h-1zM280,296h1v1h-1zM617,296h1v1h-1zM281,297h2v1h-2zM616,297h1v1h-1zM283,298h1v1h-1zM616,298h1v1h-1zM284,299h1v1h-1zM615,299h1v1h-1zM285,300h2v1h-2zM614,300h1v1h-1zM287,301h4v1h-4zM297,301h5v1h-5zM614,301h1v1h-1zM291,302h6v1h-6zM302,302h1v1h-1zM613,302h1v1h-1zM303,303h2v1h-2zM612,303h1v1h-1zM305,304h1v1h-1zM611,304h1v1h-1zM306,305h1v1h-1zM610,305h1v1h-1zM307,306h2v1h-2zM609,306h1v1h-1zM309,307h1v1h-1zM609,307h1v1h-1zM310,308h1v1h-1zM608,308h1v1h-1zM311,309h1v1h-1zM607,309h1v1h-1zM312,310h1v1h-1zM606,310h1v1h-1zM313,311h2v1h-2zM605,311h1v1h-1zM315,312h1v1h-1zM604,312h1v1h-1zM316,313h1v1h-1zM603,313h1v1h-1zM317,314h2v1h-2zM602,314h1v1h-1zM319,315h4v1h-4zM601,315h1v1h-1zM323,316h3v1h-3zM601,316h1v1h-1zM326,317h1v1h-1zM600,317h1v1h-1zM327,318h2v1h-2zM599,318h1v1h-1zM329,319h1v1h-1zM598,319h1v1h-1zM330,320h1v1h-1zM597,320h1v1h-1zM331,321h2v1h-2zM596,321h1v1h-1zM333,322h1v1h-1zM595,322h1v1h-1zM334,323h1v1h-1zM593,323h2v1h-2zM335,324h2v1h-2zM592,324h1v1h-1zM337,325h1v1h-1zM591,325h1v1h-1zM338,326h1v1h-1zM590,326h1v1h-1zM339,327h2v1h-2zM589,327h1v1h-1zM341,328h1v1h-1zM588,328h1v1h-1zM342,329h1v1h-1zM588,329h1v1h-1zM343,330h1v1h-1zM587,330h1v1h-1zM344,331h1v1h-1zM586,331h1v1h-1zM345,332h2v1h-2zM586,332h1v1h-1zM347,333h1v1h-1zM585,333h1v1h-1zM348,334h1v1h-1zM584,334h1v1h-1zM349,335h1v1h-1zM584,335h1v1h-1zM350,336h1v1h-1zM583,336h1v1h-1zM351,337h1v1h-1zM582,337h1v1h-1zM352,338h1v1h-1zM582,338h1v1h-1zM353,339h2v1h-2zM581,339h1v1h-1zM355,340h1v1h-1zM580,340h1v1h-1zM356,341h1v1h-1zM579,341h1v1h-1zM357,342h1v1h-1zM578,342h1v1h-1zM358,343h2v1h-2zM577,343h1v1h-1zM360,344h2v1h-2zM576,344h1v1h-1zM362,345h2v1h-2zM575,345h1v1h-1zM364,346h13v1h-13zM574,346h1v1h-1zM377,347h5v1h-5zM573,347h1v1h-1zM382,348h2v1h-2zM572,348h1v1h-1zM384,349h2v1h-2zM571,349h1v1h-1zM386,350h2v1h-2zM569,350h2v1h-2zM388,351h2v1h-2zM568,351h1v1h-1zM390,352h2v1h-2zM567,352h1v1h-1zM392,353h2v1h-2zM566,353h1v1h-1zM394,354h2v1h-2zM564,354h2v1h-2zM396,355h2v1h-2zM562,355h2v1h-2zM398,356h1v1h-1zM560,356h2v1h-2zM399,357h1v1h-1zM558,357h2v1h-2zM400,358h1v1h-1zM557,358h1v1h-1zM401,359h1v1h-1zM555,359h2v1h-2zM402,360h1v1h-1zM553,360h2v1h-2zM403,361h1v1h-1zM552,361h1v1h-1zM404,362h1v1h-1zM550,362h2v1h-2zM405,363h1v1h-1zM547,363h3v1h-3zM406,364h1v1h-1zM543,364h4v1h-4zM407,365h1v1h-1zM539,365h4v1h-4zM408,366h1v1h-1zM535,366h4v1h-4zM409,367h1v1h-1zM533,367h2v1h-2zM409,368h1v1h-1zM531,368h2v1h-2zM410,369h1v1h-1zM530,369h1v1h-1zM411,370h1v1h-1zM529,370h1v1h-1zM412,371h1v1h-1zM527,371h2v1h-2zM413,372h1v1h-1zM526,372h1v1h-1zM414,373h1v1h-1zM525,373h1v1h-1zM414,374h1v1h-1zM524,374h1v1h-1zM415,375h1v1h-1zM523,375h1v1h-1zM415,376h1v1h-1zM522,376h1v1h-1zM416,377h1v1h-1zM521,377h1v1h-1zM417,378h1v1h-1zM520,378h1v1h-1zM417,379h1v1h-1zM519,379h1v1h-1zM418,380h1v1h-1zM518,380h1v1h-1zM419,381h1v1h-1zM517,381h1v1h-1zM419,382h1v1h-1zM515,382h2v1h-2zM420,383h1v1h-1zM514,383h1v1h-1zM420,384h1v1h-1zM513,384h1v1h-1zM421,385h1v1h-1zM511,385h2v1h-2zM422,386h2v1h-2zM510,386h1v1h-1zM424,387h2v1h-2zM509,387h1v1h-1zM426,388h2v1h-2zM507,388h2v1h-2zM428,389h2v1h-2zM506,389h1v1h-1zM430,390h2v1h-2zM505,390h1v1h-1zM432,391h1v1h-1zM503,391h2v1h-2zM433,392h2v1h-2zM502,392h1v1h-1zM435,393h2v1h-2zM501,393h1v1h-1zM437,394h1v1h-1zM499,394h2v1h-2zM438,395h2v1h-2zM497,395h2v1h-2zM440,396h1v1h-1zM496,396h1v1h-1zM441,397h2v1h-2zM494,397h2v1h-2zM443,398h2v1h-2zM489,398h5v1h-5zM445,399h2v1h-2zM485,399h4v1h-4zM447,400h2v1h-2zM483,400h2v1h-2zM449,401h3v1h-3zM481,401h2v1h-2zM452,402h2v1h-2zM480,402h1v1h-1zM454,403h2v1h-2zM478,403h2v1h-2zM456,404h2v1h-2zM476,404h2v1h-2zM458,405h2v1h-2zM474,405h2v1h-2zM460,406h3v1h-3zM472,406h2v1h-2zM463,407h4v1h-4zM470,407h2v1h-2zM467,408h3v1h-3z" fill="#ffff00"/>
<path d="M1117,175h1v1h-1zM1116,176h1v1h-1zM1116,177h1v1h-1zM43,178h3v1h-3zM1115,178h1v1h-1zM39,179h4v1h-4zM46,179h1v1h-1zM1114,179h1v1h-1zM36,180h3v1h-3zM47,180h2v1h-2zM1114,180h1v1h-1zM34,181h2v1h-2zM49,181h1v1h-1zM1113,181h1v1h-1zM32,182h2v1h-2zM50,182h1v1h-1zM1112,182h1v1h-1zM30,183h2v1h-2zM51,183h2v1h-2zM1112,183h1v1h-1zM29,184h1v1h-1zM53,184h1v1h-1zM883,184h11v1h-11zM1111,184h1v1h-1zM28,185h1v1h-1zM54,185h2v1h-2zM879,185h4v1h-4zM894,185h1v1h-1zM1110,185h1v1h-1zM27,186h1v1h-1zM56,186h2v1h-2zM876,186h3v1h-3zM895,186h1v1h-1zM1110,186h1v1h-1zM25,187h2v1h-2zM58,187h2v1h-2zM874,187h2v1h-2zM896,187h1v1h-1zM1109,187h1v1h-1zM24,188h1v1h-1zM60,188h2v1h-2zM872,188h2v1h-2zM897,188h2v1h-2zM1108,188h1v1h-1zM23,189h1v1h-1zM62,189h1v1h-1zM870,189h2v1h-2zM899,189h1v1h-1zM1108,189h1v1h-1zM22,190h1v1h-1zM63,190h1v1h-1zM865,190h5v1h-5zM900,190h1v1h-1zM1107,190h1v1h-1zM21,191h1v1h-1zM64,191h1v1h-1zM860,191h5v1h-5zM901,191h1v1h-1zM1107,191h1v1h-1zM20,192h1v1h-1zM65,192h2v1h-2zM858,192h2v1h-2zM902,192h1v1h-1zM1106,192h1v1h-1zM19,193h1v1h-1zM67,193h1v1h-1zM856,193h2v1h-2zM903,193h1v1h-1zM1106,193h1v1h-1zM18,194h1v1h-1zM68,194h1v1h-1zM854,194h2v1h-2zM903,194h1v1h-1zM1105,194h1v1h-1zM17,195h1v1h-1zM69,195h1v1h-1zM851,195h3v1h-3zM904,195h1v1h-1zM1104,195h1v1h-1zM17,196h1v1h-1zM70,196h2v1h-2zM847,196h4v1h-4zM905,196h1v1h-1zM1104,196h1v1h-1zM16,197h1v1h-1zM72,197h1v1h-1zM845,197h2v1h-2zM906,197h1v1h-1zM1103,197h1v1h-1zM15,198h1v1h-1zM73,198h2v1h-2zM843,198h2v1h-2zM907,198h1v1h-1zM1103,198h1v1h-1zM14,199h1v1h-1zM75,199h2v1h-2zM842,199h1v1h-1zM907,199h1v1h-1zM1102,199h1v1h-1zM13,200h1v1h-1zM77,200h1v1h-1zM713,200h8v1h-8zM841,200h1v1h-1zM908,200h1v1h-1zM1102,200h1v1h-1zM11,201h2v1h-2zM78,201h1v1h-1zM707,201h6v1h-6zM721,201h6v1h-6zM839,201h2v1h-2zM909,201h1v1h-1zM1101,201h1v1h-1zM9,202h2v1h-2zM79,202h1v1h-1zM703,202h4v1h-4zM727,202h2v1h-2zM838,202h1v1h-1zM910,202h1v1h-1zM1100,202h1v1h-1zM8,203h1v1h-1zM80,203h1v1h-1zM700,203h3v1h-3zM729,203h3v1h-3zM737,203h14v1h-14zM837,203h1v1h-1zM911,203h1v1h-1zM1100,203h1v1h-1zM6,204h2v1h-2zM81,204h1v1h-1zM698,204h2v1h-2zM732,204h5v1h-5zM751,204h2v1h-2zM836,204h1v1h-1zM912,204h1v1h-1zM1099,204h1v1h-1zM5,205h1v1h-1zM81,205h1v1h-1zM696,205h2v1h-2zM753,205h3v1h-3zM835,205h1v1h-1zM913,205h1v1h-1zM1099,205h1v1h-1zM82,206h1v1h-1zM694,206h2v1h-2zM756,206h2v1h-2zM834,206h1v1h-1zM914,206h1v1h-1zM1098,206h1v1h-1zM83,207h1v1h-1zM693,207h1v1h-1zM758,207h1v1h-1zM833,207h1v1h-1zM915,207h1v1h-1zM1097,207h1v1h-1zM84,208h1v1h-1zM692,208h1v1h-1zM759,208h1v1h-1zM833,208h1v1h-1zM916,208h1v1h-1zM1097,208h1v1h-1zM85,209h1v1h-1zM691,209h1v1h-1zM760,209h1v1h-1zM832,209h1v1h-1zM917,209h1v1h-1zM1096,209h1v1h-1zM86,210h1v1h-1zM690,210h1v1h-1zM761,210h2v1h-2zM831,210h1v1h-1zM918,210h1v1h-1zM1095,210h1v1h-1zM87,211h1v1h-1zM689,211h1v1h-1zM763,211h1v1h-1zM830,211h1v1h-1zM918,211h1v1h-1zM1095,211h1v1h-1zM88,212h1v1h-1zM688,212h1v1h-1zM764,212h1v1h-1zM829,212h1v1h-1zM919,212h1v1h-1zM1094,212h1v1h-1zM89,213h2v1h-2zM687,213h1v1h-1zM765,213h1v1h-1zM827,213h2v1h-2zM919,213h1v1h-1zM1094,213h1v1h-1zM91,214h1v1h-1zM686,214h1v1h-1zM766,214h1v1h-1zM825,214h2v1h-2zM920,214h1v1h-1zM1093,214h1v1h-1zM92,215h1v1h-1zM685,215h1v1h-1zM767,215h1v1h-1zM824,215h1v1h-1zM920,215h1v1h-1zM1092,215h1v1h-1zM93,216h2v1h-2zM684,216h1v1h-1zM768,216h1v1h-1zM822,216h2v1h-2zM921,216h1v1h-1zM1091,216h1v1h-1zM95,217h2v1h-2zM683,217h1v1h-1zM769,217h1v1h-1zM821,217h1v1h-1zM922,217h1v1h-1zM1090,217h1v1h-1zM97,218h3v1h-3zM682,218h1v1h-1zM770,218h1v1h-1zM819,218h2v1h-2zM922,218h1v1h-1zM1089,218h1v1h-1zM100,219h2v1h-2zM681,219h1v1h-1zM771,219h1v1h-1zM818,219h1v1h-1zM923,219h1v1h-1zM1089,219h1v1h-1zM102,220h1v1h-1zM680,220h1v1h-1zM772,220h1v1h-1zM817,220h1v1h-1zM923,220h1v1h-1zM1088,220h1v1h-1zM103,221h1v1h-1zM679,221h1v1h-1zM773,221h1v1h-1zM815,221h2v1h-2zM924,221h1v1h-1zM1087,221h1v1h-1zM104,222h1v1h-1zM678,222h1v1h-1zM774,222h2v1h-2zM814,222h1v1h-1zM924,222h1v1h-1zM1086,222h1v1h-1zM105,223h2v1h-2zM677,223h1v1h-1zM776,223h1v1h-1zM813,223h1v1h-1zM925,223h1v1h-1zM1085,223h1v1h-1zM107,224h1v1h-1zM676,224h1v1h-1zM777,224h2v1h-2zM812,224h1v1h-1zM926,224h1v1h-1zM1084,224h1v1h-1zM108,225h1v1h-1zM675,225h1v1h-1zM779,225h2v1h-2zM811,225h1v1h-1zM926,225h1v1h-1zM1083,225h1v1h-1zM109,226h1v1h-1zM675,226h1v1h-1zM781,226h1v1h-1zM810,226h1v1h-1zM927,226h1v1h-1zM1083,226h1v1h-1zM110,227h1v1h-1zM674,227h1v1h-1zM782,227h2v1h-2zM809,227h1v1h-1zM928,227h1v1h-1zM1082,227h1v1h-1zM111,228h2v1h-2zM673,228h1v1h-1zM784,228h2v1h-2zM808,228h1v1h-1zM928,228h1v1h-1zM1081,228h1v1h-1zM113,229h1v1h-1zM672,229h1v1h-1zM786,229h2v1h-2zM807,229h1v1h-1zM929,229h1v1h-1zM1080,229h1v1h-1zM114,230h1v1h-1zM671,230h1v1h-1zM788,230h13v1h-13zM806,230h1v1h-1zM930,230h1v1h-1zM1079,230h1v1h-1zM115,231h2v1h-2zM671,231h1v1h-1zM801,231h5v1h-5zM930,231h1v1h-1zM1079,231h1v1h-1zM117,232h1v1h-1zM670,232h1v1h-1zM931,232h1v1h-1zM1078,232h1v1h-1zM118,233h1v1h-1zM669,233h1v1h-1zM932,233h1v1h-1zM1077,233h1v1h-1zM119,234h2v1h-2zM668,234h1v1h-1zM932,234h1v1h-1zM1076,234h1v1h-1zM121,235h1v1h-1zM667,235h1v1h-1zM933,235h1v1h-1zM1075,235h1v1h-1zM122,236h1v1h-1zM666,236h1v1h-1zM934,236h1v1h-1zM1073,236h2v1h-2zM123,237h2v1h-2zM665,237h1v1h-1zM934,237h1v1h-1zM1072,237h1v1h-1zM125,238h1v1h-1zM664,238h1v1h-1zM935,238h1v1h-1zM1071,238h1v1h-1zM126,239h1v1h-1zM663,239h1v1h-1zM936,239h1v1h-1zM1070,239h1v1h-1zM126,240h1v1h-1zM662,240h1v1h-1zM937,240h1v1h-1zM1069,240h1v1h-1zM127,241h1v1h-1zM661,241h1v1h-1zM937,241h1v1h-1zM1067,241h2v1h-2zM127,242h1v1h-1zM660,242h1v1h-1zM938,242h1v1h-1zM1066,242h1v1h-1zM128,243h1v1h-1zM660,243h1v1h-1zM939,243h1v1h-1zM1065,243h1v1h-1zM128,244h1v1h-1zM659,244h1v1h-1zM940,244h1v1h-1zM1063,244h2v1h-2zM129,245h1v1h-1zM659,245h1v1h-1zM940,245h1v1h-1zM1062,245h1v1h-1zM130,246h1v1h-1zM658,246h1v1h-1zM941,246h1v1h-1zM1061,246h1v1h-1zM130,247h1v1h-1zM658,247h1v1h-1zM942,247h1v1h-1zM1059,247h2v1h-2zM131,248h1v1h-1zM657,248h1v1h-1zM942,248h1v1h-1zM1058,248h1v1h-1zM131,249h1v1h-1zM656,249h1v1h-1zM943,249h1v1h-1zM1057,249h1v1h-1zM132,250h1v1h-1zM656,250h1v1h-1zM944,250h1v1h-1zM1055,250h2v1h-2zM132,251h1v1h-1zM655,251h1v1h-1zM944,251h1v1h-1zM1054,251h1v1h-1zM133,252h1v1h-1zM655,252h1v1h-1zM945,252h1v1h-1zM1053,252h1v1h-1zM134,253h1v1h-1zM654,253h1v1h-1zM946,253h1v1h-1zM1052,253h1v1h-1zM135,254h1v1h-1zM654,254h1v1h-1zM946,254h1v1h-1zM1051,254h1v1h-1zM136,255h1v1h-1zM653,255h1v1h-1zM947,255h1v1h-1zM1049,255h2v1h-2zM137,256h1v1h-1zM652,256h1v1h-1zM948,256h1v1h-1zM1048,256h1v1h-1zM138,257h1v1h-1zM652,257h1v1h-1zM948,257h1v1h-1zM1047,257h1v1h-1zM139,258h1v1h-1zM651,258h1v1h-1zM949,258h1v1h-1zM1046,258h1v1h-1zM140,259h1v1h-1zM650,259h1v1h-1zM950,259h1v1h-1zM1045,259h1v1h-1zM141,260h1v1h-1zM649,260h1v1h-1zM950,260h1v1h-1zM1044,260h1v1h-1zM142,261h2v1h-2zM649,261h1v1h-1zM951,261h1v1h-1zM1043,261h1v1h-1zM144,262h1v1h-1zM648,262h1v1h-1zM952,262h1v1h-1zM1042,262h1v1h-1zM145,263h2v1h-2zM647,263h1v1h-1zM953,263h1v1h-1zM1041,263h1v1h-1zM147,264h2v1h-2zM646,264h1v1h-1zM953,264h1v1h-1zM1040,264h1v1h-1zM149,265h1v1h-1zM646,265h1v1h-1zM954,265h1v1h-1zM1039,265h1v1h-1zM150,266h1v1h-1zM645,266h1v1h-1zM955,266h1v1h-1zM1038,266h1v1h-1zM151,267h1v1h-1zM644,267h1v1h-1zM956,267h1v1h-1zM1037,267h1v1h-1zM152,268h1v1h-1zM643,268h1v1h-1zM956,268h1v1h-1zM1035,268h2v1h-2zM153,269h2v1h-2zM642,269h1v1h-1zM957,269h1v1h-1zM1033,269h2v1h-2zM155,270h1v1h-1zM641,270h1v1h-1zM958,270h1v1h-1zM1032,270h1v1h-1zM156,271h1v1h-1zM641,271h1v1h-1zM959,271h2v1h-2zM1030,271h2v1h-2zM157,272h4v1h-4zM180,272h5v1h-5zM640,272h1v1h-1zM961,272h1v1h-1zM1028,272h2v1h-2zM161,273h6v1h-6zM177,273h3v1h-3zM185,273h5v1h-5zM639,273h1v1h-1zM962,273h1v1h-1zM1026,273h2v1h-2zM167,274h4v1h-4zM175,274h2v1h-2zM190,274h2v1h-2zM638,274h1v1h-1zM963,274h2v1h-2zM1024,274h2v1h-2zM171,275h4v1h-4zM192,275h2v1h-2zM636,275h2v1h-2zM965,275h1v1h-1zM1022,275h2v1h-2zM194,276h2v1h-2zM633,276h3v1h-3zM966,276h1v1h-1zM1021,276h1v1h-1zM196,277h2v1h-2zM631,277h2v1h-2zM967,277h2v1h-2zM1019,277h2v1h-2zM198,278h2v1h-2zM628,278h3v1h-3zM969,278h1v1h-1zM1018,278h1v1h-1zM200,279h2v1h-2zM626,279h2v1h-2zM970,279h1v1h-1zM1017,279h1v1h-1zM202,280h2v1h-2zM624,280h2v1h-2zM971,280h2v1h-2zM1015,280h2v1h-2zM204,281h2v1h-2zM622,281h2v1h-2zM973,281h2v1h-2zM1014,281h1v1h-1zM206,282h1v1h-1zM621,282h1v1h-1zM975,282h2v1h-2zM1013,282h1v1h-1zM207,283h2v1h-2zM619,283h2v1h-2zM977,283h3v1h-3zM1012,283h1v1h-1zM209,284h1v1h-1zM617,284h2v1h-2zM980,284h3v1h-3zM1011,284h1v1h-1zM210,285h1v1h-1zM616,285h1v1h-1zM983,285h2v1h-2zM1009,285h2v1h-2zM211,286h2v1h-2zM614,286h2v1h-2zM985,286h3v1h-3zM1008,286h1v1h-1zM213,287h1v1h-1zM612,287h2v1h-2zM988,287h3v1h-3zM1007,287h1v1h-1zM214,288h2v1h-2zM609,288h3v1h-3zM991,288h2v1h-2zM1006,288h1v1h-1zM216,289h2v1h-2zM607,289h2v1h-2zM993,289h3v1h-3zM1001,289h5v1h-5zM218,290h2v1h-2zM604,290h3v1h-3zM996,290h5v1h-5zM220,291h2v1h-2zM602,291h2v1h-2zM222,292h2v1h-2zM600,292h2v1h-2zM224,293h2v1h-2zM598,293h2v1h-2zM226,294h2v1h-2zM251,294h3v1h-3zM595,294h3v1h-3zM228,295h2v1h-2zM247,295h4v1h-4zM254,295h1v1h-1zM591,295h4v1h-4zM230,296h2v1h-2zM244,296h3v1h-3zM255,296h2v1h-2zM585,296h6v1h-6zM232,297h2v1h-2zM241,297h3v1h-3zM257,297h1v1h-1zM580,297h5v1h-5zM234,298h2v1h-2zM239,298h2v1h-2zM258,298h1v1h-1zM578,298h2v1h-2zM236,299h3v1h-3zM259,299h2v1h-2zM576,299h2v1h-2zM261,300h1v1h-1zM574,300h2v1h-2zM262,301h2v1h-2zM573,301h1v1h-1zM264,302h1v1h-1zM571,302h2v1h-2zM265,303h2v1h-2zM570,303h1v1h-1zM267,304h2v1h-2zM569,304h1v1h-1zM269,305h2v1h-2zM567,305h2v1h-2zM271,306h2v1h-2zM566,306h1v1h-1zM273,307h3v1h-3zM565,307h1v1h-1zM276,308h2v1h-2zM564,308h1v1h-1zM278,309h1v1h-1zM563,309h1v1h-1zM279,310h1v1h-1zM563,310h1v1h-1zM280,311h1v1h-1zM562,311h1v1h-1zM281,312h1v1h-1zM561,312h1v1h-1zM281,313h1v1h-1zM560,313h1v1h-1zM282,314h1v1h-1zM559,314h1v1h-1zM283,315h1v1h-1zM559,315h1v1h-1zM284,316h1v1h-1zM558,316h1v1h-1zM285,317h4v1h-4zM557,317h1v1h-1zM289,318h14v1h-14zM556,318h1v1h-1zM303,319h4v1h-4zM324,319h2v1h-2zM555,319h1v1h-1zM307,320h4v1h-4zM322,320h2v1h-2zM326,320h2v1h-2zM554,320h1v1h-1zM311,321h2v1h-2zM320,321h2v1h-2zM328,321h1v1h-1zM553,321h1v1h-1zM313,322h3v1h-3zM318,322h2v1h-2zM329,322h2v1h-2zM552,322h1v1h-1zM316,323h2v1h-2zM331,323h2v1h-2zM551,323h1v1h-1zM333,324h1v1h-1zM550,324h1v1h-1zM334,325h1v1h-1zM549,325h1v1h-1zM335,326h2v1h-2zM547,326h2v1h-2zM337,327h1v1h-1zM546,327h1v1h-1zM338,328h1v1h-1zM545,328h1v1h-1zM339,329h2v1h-2zM543,329h2v1h-2zM341,330h1v1h-1zM542,330h1v1h-1zM342,331h1v1h-1zM541,331h1v1h-1zM343,332h1v1h-1zM540,332h1v1h-1zM344,333h1v1h-1zM539,333h1v1h-1zM345,334h1v1h-1zM537,334h2v1h-2zM346,335h1v1h-1zM536,335h1v1h-1zM347,336h1v1h-1zM535,336h1v1h-1zM348,337h1v1h-1zM534,337h1v1h-1zM349,338h1v1h-1zM533,338h1v1h-1zM350,339h1v1h-1zM532,339h1v1h-1zM350,340h1v1h-1zM532,340h1v1h-1zM351,341h1v1h-1zM531,341h1v1h-1zM351,342h1v1h-1zM531,342h1v1h-1zM352,343h1v1h-1zM530,343h1v1h-1zM353,344h1v1h-1zM530,344h1v1h-1zM353,345h1v1h-1zM529,345h1v1h-1zM354,346h1v1h-1zM529,346h1v1h-1zM355,347h1v1h-1zM528,347h1v1h-1zM355,348h1v1h-1zM528,348h1v1h-1zM356,349h1v1h-1zM527,349h1v1h-1zM356,350h1v1h-1zM527,350h1v1h-1zM357,351h1v1h-1zM526,351h1v1h-1zM358,352h1v1h-1zM526,352h1v1h-1zM358,353h1v1h-1zM525,353h1v1h-1zM359,354h1v1h-1zM524,354h1v1h-1zM359,355h1v1h-1zM524,355h1v1h-1zM360,356h1v1h-1zM523,356h1v1h-1zM361,357h1v1h-1zM522,357h1v1h-1zM361,358h1v1h-1zM522,358h1v1h-1zM362,359h1v1h-1zM521,359h1v1h-1zM363,360h1v1h-1zM520,360h1v1h-1zM363,361h1v1h-1zM520,361h1v1h-1zM364,362h1v1h-1zM519,362h1v1h-1zM364,363h1v1h-1zM518,363h1v1h-1zM365,364h2v1h-2zM518,364h1v1h-1zM367,365h2v1h-2zM517,365h1v1h-1zM369,366h3v1h-3zM516,366h1v1h-1zM372,367h2v1h-2zM516,367h1v1h-1zM374,368h2v1h-2zM515,368h1v1h-1zM376,369h2v1h-2zM515,369h1v1h-1zM378,370h2v1h-2zM514,370h1v1h-1zM380,371h2v1h-2zM513,371h1v1h-1zM382,372h1v1h-1zM513,372h1v1h-1zM383,373h2v1h-2zM512,373h1v1h-1zM385,374h1v1h-1zM511,374h1v1h-1zM386,375h1v1h-1zM511,375h1v1h-1zM387,376h2v1h-2zM510,376h1v1h-1zM389,377h4v1h-4zM510,377h1v1h-1zM393,378h5v1h-5zM509,378h1v1h-1zM398,379h1v1h-1zM508,379h1v1h-1zM398,380h1v1h-1zM507,380h1v1h-1zM399,381h1v1h-1zM506,381h1v1h-1zM399,382h1v1h-1zM505,382h1v1h-1zM400,383h1v1h-1zM505,383h1v1h-1zM401,384h1v1h-1zM504,384h1v1h-1zM401,385h1v1h-1zM503,385h1v1h-1zM402,386h1v1h-1zM502,386h1v1h-1zM403,387h1v1h-1zM501,387h1v1h-1zM403,388h1v1h-1zM500,388h1v1h-1zM404,389h1v1h-1zM499,389h1v1h-1zM404,390h1v1h-1zM498,390h1v1h-1zM405,391h1v1h-1zM497,391h1v1h-1zM406,392h1v1h-1zM497,392h1v1h-1zM407,393h1v1h-1zM496,393h1v1h-1zM407,394h1v1h-1zM495,394h1v1h-1zM408,395h1v1h-1zM494,395h1v1h-1zM409,396h1v1h-1zM493,396h1v1h-1zM410,397h1v1h-1zM491,397h2v1h-2zM411,398h1v1h-1zM490,398h1v1h-1zM411,399h1v1h-1zM489,399h1v1h-1zM412,400h1v1h-1zM487,400h2v1h-2zM413,401h1v1h-1zM486,401h1v1h-1zM414,402h1v1h-1zM485,402h1v1h-1zM415,403h1v1h-1zM483,403h2v1h-2zM415,404h1v1h-1zM481,404h2v1h-2zM416,405h1v1h-1zM480,405h1v1h-1zM417,406h1v1h-1zM478,406h2v1h-2zM418,407h1v1h-1zM477,407h1v1h-1zM419,408h1v1h-1zM476,408h1v1h-1zM419,409h1v1h-1zM475,409h1v1h-1zM420,410h1v1h-1zM475,410h1v1h-1zM421,411h2v1h-2zM474,411h1v1h-1zM423,412h4v1h-4zM473,412h1v1h-1zM427,413h3v1h-3zM472,413h1v1h-1zM430,414h1v1h-1zM471,414h1v1h-1zM431,415h1v1h-1zM471,415h1v1h-1zM432,416h1v1h-1zM470,416h1v1h-1zM433,417h1v1h-1zM469,417h1v1h-1zM434,418h1v1h-1zM468,418h1v1h-1zM435,419h1v1h-1zM467,419h1v1h-1zM436,420h1v1h-1zM465,420h2v1h-2zM437,421h2v1h-2zM464,421h1v1h-1zM439,422h2v1h-2zM463,422h1v1h-1zM441,423h3v1h-3zM462,423h1v1h-1zM444,424h3v1h-3zM460,424h2v1h-2zM447,425h2v1h-2zM457,425h3v1h-3zM449,426h3v1h-3zM455,426h2v1h-2zM452,427h3v1h-3z" fill="#ff0000"/>
<path d="M1117,125h1v1h-1zM1117,126h1v1h-1zM1116,127h1v1h-1zM1116,128h1v1h-1zM1115,129h1v1h-1zM1115,130h1v1h-1zM1114,131h1v1h-1zM1114,132h1v1h-1zM1114,133h1v1h-1zM1113,134h1v1h-1zM1113,135h1v1h-1zM1112,136h1v1h-1zM1112,137h1v1h-1zM1112,138h1v1h-1zM1111,139h1v1h-1zM1111,140h1v1h-1zM1110,141h1v1h-1zM1110,142h1v1h-1zM1109,143h1v1h-1zM1109,144h1v1h-1zM1109,145h1v1h-1zM1108,146h1v1h-1zM1108,147h1v1h-1zM1107,148h1v1h-1zM1107,149h1v1h-1zM1106,150h1v1h-1zM845,151h4v1h-4zM1106,151h1v1h-1zM844,152h1v1h-1zM849,152h8v1h-8zM1106,152h1v1h-1zM844,153h1v1h-1zM857,153h5v1h-5zM1105,153h1v1h-1zM843,154h1v1h-1zM862,154h1v1h-1zM1105,154h1v1h-1zM843,155h1v1h-1zM862,155h1v1h-1zM1104,155h1v1h-1zM842,156h1v1h-1zM863,156h1v1h-1zM1104,156h1v1h-1zM841,157h1v1h-1zM863,157h1v1h-1zM1104,157h1v1h-1zM841,158h1v1h-1zM864,158h1v1h-1zM1103,158h1v1h-1zM840,159h1v1h-1zM864,159h1v1h-1zM1103,159h1v1h-1zM45,160h1v1h-1zM839,160h1v1h-1zM865,160h1v1h-1zM1102,160h1v1h-1zM44,161h1v1h-1zM46,161h1v1h-1zM839,161h1v1h-1zM866,161h1v1h-1zM1102,161h1v1h-1zM43,162h1v1h-1zM47,162h1v1h-1zM838,162h1v1h-1zM866,162h1v1h-1zM1101,162h1v1h-1zM42,163h1v1h-1zM47,163h1v1h-1zM838,163h1v1h-1zM867,163h1v1h-1zM1101,163h1v1h-1zM41,164h1v1h-1zM48,164h1v1h-1zM837,164h1v1h-1zM867,164h1v1h-1zM1101,164h1v1h-1zM41,165h1v1h-1zM49,165h1v1h-1zM837,165h1v1h-1zM868,165h1v1h-1zM1100,165h1v1h-1zM40,166h1v1h-1zM50,166h1v1h-1zM836,166h1v1h-1zM868,166h1v1h-1zM1100,166h1v1h-1zM39,167h1v1h-1zM51,167h1v1h-1zM836,167h1v1h-1zM869,167h1v1h-1zM1099,167h1v1h-1zM38,168h1v1h-1zM51,168h1v1h-1zM835,168h1v1h-1zM870,168h1v1h-1zM1099,168h1v1h-1zM37,169h1v1h-1zM52,169h1v1h-1zM835,169h1v1h-1zM871,169h1v1h-1zM1099,169h1v1h-1zM36,170h1v1h-1zM53,170h1v1h-1zM834,170h1v1h-1zM872,170h1v1h-1zM1098,170h1v1h-1zM35,171h1v1h-1zM54,171h1v1h-1zM834,171h1v1h-1zM873,171h1v1h-1zM1098,171h1v1h-1zM34,172h1v1h-1zM55,172h1v1h-1zM834,172h1v1h-1zM874,172h1v1h-1zM1098,172h1v1h-1zM33,173h1v1h-1zM55,173h1v1h-1zM833,173h1v1h-1zM875,173h1v1h-1zM1097,173h1v1h-1zM32,174h1v1h-1zM56,174h1v1h-1zM693,174h1v1h-1zM833,174h1v1h-1zM876,174h1v1h-1zM1097,174h1v1h-1zM31,175h1v1h-1zM57,175h1v1h-1zM692,175h1v1h-1zM694,175h2v1h-2zM832,175h1v1h-1zM877,175h1v1h-1zM1096,175h1v1h-1zM30,176h1v1h-1zM58,176h1v1h-1zM691,176h1v1h-1zM696,176h2v1h-2zM832,176h1v1h-1zM878,176h1v1h-1zM1096,176h1v1h-1zM28,177h2v1h-2zM59,177h1v1h-1zM690,177h1v1h-1zM698,177h2v1h-2zM832,177h1v1h-1zM878,177h1v1h-1zM1096,177h1v1h-1zM25,178h3v1h-3zM59,178h1v1h-1zM689,178h1v1h-1zM700,178h2v1h-2zM831,178h1v1h-1zM879,178h1v1h-1zM1095,178h1v1h-1zM23,179h2v1h-2zM60,179h1v1h-1zM688,179h1v1h-1zM702,179h1v1h-1zM831,179h1v1h-1zM880,179h1v1h-1zM1095,179h1v1h-1zM21,180h2v1h-2zM61,180h1v1h-1zM687,180h1v1h-1zM703,180h1v1h-1zM830,180h1v1h-1zM881,180h1v1h-1zM1095,180h1v1h-1zM20,181h1v1h-1zM61,181h1v1h-1zM686,181h1v1h-1zM703,181h1v1h-1zM830,181h1v1h-1zM881,181h1v1h-1zM1094,181h1v1h-1zM20,182h1v1h-1zM62,182h1v1h-1zM685,182h1v1h-1zM704,182h1v1h-1zM829,182h1v1h-1zM882,182h1v1h-1zM1094,182h1v1h-1zM19,183h1v1h-1zM62,183h1v1h-1zM684,183h1v1h-1zM705,183h1v1h-1zM829,183h1v1h-1zM883,183h1v1h-1zM1093,183h1v1h-1zM18,184h1v1h-1zM63,184h1v1h-1zM683,184h1v1h-1zM706,184h1v1h-1zM828,184h1v1h-1zM884,184h1v1h-1zM1093,184h1v1h-1zM18,185h1v1h-1zM63,185h1v1h-1zM682,185h1v1h-1zM707,185h1v1h-1zM828,185h1v1h-1zM884,185h1v1h-1zM1093,185h1v1h-1zM17,186h1v1h-1zM63,186h1v1h-1zM681,186h1v1h-1zM707,186h1v1h-1zM827,186h1v1h-1zM885,186h1v1h-1zM1092,186h1v1h-1zM16,187h1v1h-1zM64,187h1v1h-1zM680,187h1v1h-1zM708,187h1v1h-1zM827,187h1v1h-1zM885,187h1v1h-1zM1092,187h1v1h-1zM16,188h1v1h-1zM64,188h1v1h-1zM679,188h1v1h-1zM709,188h1v1h-1zM826,188h1v1h-1zM886,188h1v1h-1zM1091,188h1v1h-1zM15,189h1v1h-1zM64,189h1v1h-1zM678,189h1v1h-1zM710,189h1v1h-1zM825,189h1v1h-1zM886,189h1v1h-1zM1091,189h1v1h-1zM14,190h1v1h-1zM65,190h1v1h-1zM676,190h2v1h-2zM710,190h1v1h-1zM825,190h1v1h-1zM887,190h1v1h-1zM1090,190h1v1h-1zM14,191h1v1h-1zM65,191h1v1h-1zM674,191h2v1h-2zM711,191h1v1h-1zM824,191h1v1h-1zM887,191h1v1h-1zM1090,191h1v1h-1zM11,192h3v1h-3zM66,192h1v1h-1zM672,192h2v1h-2zM711,192h1v1h-1zM823,192h1v1h-1zM888,192h1v1h-1zM1089,192h1v1h-1zM7,193h4v1h-4zM66,193h1v1h-1zM670,193h2v1h-2zM712,193h1v1h-1zM823,193h1v1h-1zM888,193h1v1h-1zM1089,193h1v1h-1zM5,194h2v1h-2zM66,194h1v1h-1zM669,194h1v1h-1zM713,194h1v1h-1zM822,194h1v1h-1zM888,194h1v1h-1zM1088,194h1v1h-1zM67,195h1v1h-1zM667,195h2v1h-2zM713,195h1v1h-1zM822,195h1v1h-1zM889,195h1v1h-1zM1088,195h1v1h-1zM67,196h1v1h-1zM665,196h2v1h-2zM714,196h1v1h-1zM821,196h1v1h-1zM889,196h1v1h-1zM1087,196h1v1h-1zM67,197h1v1h-1zM664,197h1v1h-1zM715,197h1v1h-1zM821,197h1v1h-1zM890,197h1v1h-1zM1087,197h1v1h-1zM68,198h1v1h-1zM662,198h2v1h-2zM715,198h1v1h-1zM820,198h1v1h-1zM890,198h1v1h-1zM1086,198h1v1h-1zM68,199h1v1h-1zM661,199h1v1h-1zM716,199h1v1h-1zM820,199h1v1h-1zM890,199h1v1h-1zM1086,199h1v1h-1zM69,200h1v1h-1zM660,200h1v1h-1zM716,200h1v1h-1zM819,200h1v1h-1zM891,200h1v1h-1zM1085,200h1v1h-1zM69,201h1v1h-1zM660,201h1v1h-1zM717,201h1v1h-1zM819,201h1v1h-1zM891,201h1v1h-1zM1085,201h1v1h-1zM69,202h1v1h-1zM659,202h1v1h-1zM718,202h1v1h-1zM818,202h1v1h-1zM892,202h1v1h-1zM1084,202h1v1h-1zM70,203h1v1h-1zM659,203h1v1h-1zM719,203h1v1h-1zM818,203h1v1h-1zM892,203h1v1h-1zM1084,203h1v1h-1zM70,204h1v1h-1zM658,204h1v1h-1zM720,204h1v1h-1zM817,204h1v1h-1zM893,204h1v1h-1zM1083,204h1v1h-1zM70,205h1v1h-1zM658,205h1v1h-1zM721,205h1v1h-1zM817,205h1v1h-1zM893,205h1v1h-1zM1083,205h1v1h-1zM71,206h1v1h-1zM657,206h1v1h-1zM722,206h1v1h-1zM816,206h1v1h-1zM893,206h1v1h-1zM1082,206h1v1h-1zM71,207h1v1h-1zM656,207h1v1h-1zM723,207h1v1h-1zM816,207h1v1h-1zM894,207h1v1h-1zM1082,207h1v1h-1zM71,208h1v1h-1zM656,208h1v1h-1zM724,208h1v1h-1zM815,208h1v1h-1zM894,208h1v1h-1zM1081,208h1v1h-1zM72,209h1v1h-1zM655,209h1v1h-1zM725,209h1v1h-1zM815,209h1v1h-1zM894,209h1v1h-1zM1080,209h1v1h-1zM72,210h1v1h-1zM655,210h1v1h-1zM726,210h1v1h-1zM814,210h1v1h-1zM895,210h1v1h-1zM1080,210h1v1h-1zM72,211h1v1h-1zM654,211h1v1h-1zM727,211h1v1h-1zM814,211h1v1h-1zM895,211h1v1h-1zM1079,211h1v1h-1zM73,212h1v1h-1zM654,212h1v1h-1zM728,212h1v1h-1zM813,212h1v1h-1zM895,212h1v1h-1zM1079,212h1v1h-1zM73,213h1v1h-1zM653,213h1v1h-1zM729,213h1v1h-1zM813,213h1v1h-1zM895,213h1v1h-1zM1078,213h1v1h-1zM73,214h1v1h-1zM652,214h1v1h-1zM730,214h1v1h-1zM813,214h1v1h-1zM896,214h1v1h-1zM1078,214h1v1h-1zM73,215h1v1h-1zM652,215h1v1h-1zM731,215h1v1h-1zM812,215h1v1h-1zM896,215h1v1h-1zM1077,215h1v1h-1zM74,216h1v1h-1zM651,216h1v1h-1zM732,216h1v1h-1zM812,216h1v1h-1zM896,216h1v1h-1zM1075,216h2v1h-2zM74,217h1v1h-1zM651,217h1v1h-1zM733,217h1v1h-1zM811,217h1v1h-1zM897,217h1v1h-1zM1074,217h1v1h-1zM74,218h1v1h-1zM650,218h1v1h-1zM734,218h1v1h-1zM811,218h1v1h-1zM897,218h1v1h-1zM1073,218h1v1h-1zM75,219h1v1h-1zM650,219h1v1h-1zM735,219h1v1h-1zM810,219h1v1h-1zM897,219h1v1h-1zM1071,219h2v1h-2zM75,220h1v1h-1zM649,220h1v1h-1zM736,220h1v1h-1zM810,220h1v1h-1zM898,220h1v1h-1zM1070,220h1v1h-1zM75,221h1v1h-1zM648,221h1v1h-1zM737,221h2v1h-2zM809,221h1v1h-1zM898,221h1v1h-1zM1068,221h2v1h-2zM76,222h1v1h-1zM648,222h1v1h-1zM739,222h1v1h-1zM809,222h1v1h-1zM898,222h1v1h-1zM1066,222h2v1h-2zM76,223h1v1h-1zM647,223h1v1h-1zM740,223h1v1h-1zM808,223h1v1h-1zM899,223h1v1h-1zM1064,223h2v1h-2zM76,224h1v1h-1zM647,224h1v1h-1zM741,224h1v1h-1zM808,224h1v1h-1zM899,224h1v1h-1zM1062,224h2v1h-2zM77,225h1v1h-1zM646,225h1v1h-1zM742,225h1v1h-1zM807,225h1v1h-1zM899,225h1v1h-1zM1060,225h2v1h-2zM77,226h1v1h-1zM646,226h1v1h-1zM743,226h1v1h-1zM807,226h1v1h-1zM899,226h1v1h-1zM1058,226h2v1h-2zM77,227h1v1h-1zM645,227h1v1h-1zM744,227h1v1h-1zM806,227h1v1h-1zM900,227h1v1h-1zM1056,227h2v1h-2zM78,228h1v1h-1zM644,228h1v1h-1zM745,228h1v1h-1zM806,228h1v1h-1zM900,228h1v1h-1zM1054,228h2v1h-2zM78,229h1v1h-1zM644,229h1v1h-1zM746,229h1v1h-1zM805,229h1v1h-1zM900,229h1v1h-1zM1053,229h1v1h-1zM79,230h1v1h-1zM643,230h1v1h-1zM747,230h1v1h-1zM804,230h1v1h-1zM901,230h1v1h-1zM1052,230h1v1h-1zM79,231h1v1h-1zM643,231h1v1h-1zM748,231h1v1h-1zM803,231h1v1h-1zM901,231h1v1h-1zM1051,231h1v1h-1zM80,232h1v1h-1zM642,232h1v1h-1zM749,232h4v1h-4zM802,232h1v1h-1zM901,232h1v1h-1zM1050,232h1v1h-1zM80,233h1v1h-1zM641,233h1v1h-1zM753,233h5v1h-5zM801,233h1v1h-1zM902,233h1v1h-1zM1049,233h1v1h-1zM80,234h1v1h-1zM641,234h1v1h-1zM758,234h2v1h-2zM800,234h1v1h-1zM902,234h1v1h-1zM1049,234h1v1h-1zM81,235h1v1h-1zM640,235h1v1h-1zM760,235h1v1h-1zM799,235h1v1h-1zM903,235h1v1h-1zM1048,235h1v1h-1zM81,236h1v1h-1zM639,236h1v1h-1zM761,236h2v1h-2zM798,236h1v1h-1zM903,236h1v1h-1zM1047,236h1v1h-1zM82,237h1v1h-1zM639,237h1v1h-1zM763,237h2v1h-2zM797,237h1v1h-1zM904,237h1v1h-1zM1046,237h1v1h-1zM82,238h1v1h-1zM638,238h1v1h-1zM765,238h2v1h-2zM796,238h1v1h-1zM904,238h1v1h-1zM1045,238h1v1h-1zM82,239h1v1h-1zM638,239h1v1h-1zM767,239h4v1h-4zM795,239h1v1h-1zM905,239h1v1h-1zM1044,239h1v1h-1zM83,240h1v1h-1zM637,240h1v1h-1zM771,240h4v1h-4zM793,240h2v1h-2zM905,240h1v1h-1zM1043,240h1v1h-1zM83,241h1v1h-1zM636,241h1v1h-1zM775,241h2v1h-2zM792,241h1v1h-1zM905,241h1v1h-1zM1041,241h2v1h-2zM84,242h1v1h-1zM635,242h1v1h-1zM777,242h3v1h-3zM791,242h1v1h-1zM906,242h1v1h-1zM1040,242h1v1h-1zM84,243h1v1h-1zM633,243h2v1h-2zM780,243h5v1h-5zM790,243h1v1h-1zM906,243h1v1h-1zM1039,243h1v1h-1zM85,244h1v1h-1zM632,244h1v1h-1zM785,244h5v1h-5zM907,244h1v1h-1zM1038,244h1v1h-1zM85,245h1v1h-1zM631,245h1v1h-1zM907,245h1v1h-1zM1033,245h5v1h-5zM85,246h1v1h-1zM630,246h1v1h-1zM908,246h1v1h-1zM1029,246h4v1h-4zM86,247h1v1h-1zM629,247h1v1h-1zM908,247h1v1h-1zM1027,247h2v1h-2zM86,248h1v1h-1zM628,248h1v1h-1zM909,248h1v1h-1zM1026,248h1v1h-1zM87,249h1v1h-1zM627,249h1v1h-1zM909,249h1v1h-1zM1025,249h1v1h-1zM87,250h1v1h-1zM627,250h1v1h-1zM910,250h1v1h-1zM1023,250h2v1h-2zM88,251h1v1h-1zM626,251h1v1h-1zM910,251h1v1h-1zM1022,251h1v1h-1zM88,252h1v1h-1zM625,252h1v1h-1zM911,252h1v1h-1zM1021,252h1v1h-1zM89,253h1v1h-1zM624,253h1v1h-1zM911,253h1v1h-1zM1019,253h2v1h-2zM89,254h1v1h-1zM623,254h1v1h-1zM912,254h1v1h-1zM1018,254h1v1h-1zM89,255h1v1h-1zM623,255h1v1h-1zM912,255h1v1h-1zM1017,255h1v1h-1zM90,256h1v1h-1zM622,256h1v1h-1zM913,256h1v1h-1zM1015,256h2v1h-2zM90,257h1v1h-1zM621,257h1v1h-1zM913,257h1v1h-1zM1014,257h1v1h-1zM91,258h1v1h-1zM620,258h1v1h-1zM914,258h1v1h-1zM1013,258h1v1h-1zM91,259h1v1h-1zM620,259h1v1h-1zM914,259h1v1h-1zM1012,259h1v1h-1zM92,260h1v1h-1zM619,260h1v1h-1zM915,260h1v1h-1zM1011,260h1v1h-1zM92,261h1v1h-1zM619,261h1v1h-1zM915,261h1v1h-1zM1010,261h1v1h-1zM93,262h1v1h-1zM618,262h1v1h-1zM916,262h1v1h-1zM1009,262h1v1h-1zM93,263h1v1h-1zM618,263h1v1h-1zM916,263h1v1h-1zM1008,263h1v1h-1zM94,264h1v1h-1zM161,264h8v1h-8zM617,264h1v1h-1zM917,264h1v1h-1zM1007,264h1v1h-1zM94,265h1v1h-1zM155,265h6v1h-6zM169,265h6v1h-6zM617,265h1v1h-1zM918,265h1v1h-1zM1006,265h1v1h-1zM95,266h1v1h-1zM151,266h4v1h-4zM175,266h2v1h-2zM616,266h1v1h-1zM918,266h1v1h-1zM1005,266h1v1h-1zM95,267h1v1h-1zM149,267h2v1h-2zM177,267h3v1h-3zM616,267h1v1h-1zM919,267h1v1h-1zM1004,267h1v1h-1zM96,268h1v1h-1zM148,268h1v1h-1zM180,268h10v1h-10zM615,268h1v1h-1zM919,268h1v1h-1zM1003,268h1v1h-1zM96,269h1v1h-1zM147,269h1v1h-1zM190,269h1v1h-1zM615,269h1v1h-1zM920,269h1v1h-1zM1002,269h1v1h-1zM97,270h1v1h-1zM146,270h1v1h-1zM190,270h1v1h-1zM614,270h1v1h-1zM920,270h1v1h-1zM1001,270h1v1h-1zM97,271h1v1h-1zM145,271h1v1h-1zM191,271h1v1h-1zM614,271h1v1h-1zM921,271h1v1h-1zM1001,271h1v1h-1zM98,272h1v1h-1zM144,272h1v1h-1zM192,272h1v1h-1zM613,272h1v1h-1zM922,272h1v1h-1zM1000,272h1v1h-1zM98,273h1v1h-1zM143,273h1v1h-1zM193,273h1v1h-1zM612,273h1v1h-1zM922,273h1v1h-1zM999,273h1v1h-1zM99,274h1v1h-1zM142,274h1v1h-1zM193,274h1v1h-1zM612,274h1v1h-1zM923,274h1v1h-1zM998,274h1v1h-1zM99,275h1v1h-1zM125,275h2v1h-2zM140,275h2v1h-2zM194,275h1v1h-1zM611,275h1v1h-1zM923,275h1v1h-1zM997,275h1v1h-1zM100,276h1v1h-1zM124,276h1v1h-1zM127,276h2v1h-2zM137,276h3v1h-3zM195,276h1v1h-1zM610,276h1v1h-1zM924,276h1v1h-1zM995,276h2v1h-2zM100,277h1v1h-1zM123,277h1v1h-1zM129,277h3v1h-3zM135,277h2v1h-2zM196,277h1v1h-1zM610,277h1v1h-1zM924,277h1v1h-1zM993,277h2v1h-2zM101,278h1v1h-1zM122,278h1v1h-1zM132,278h3v1h-3zM196,278h1v1h-1zM609,278h1v1h-1zM925,278h1v1h-1zM992,278h1v1h-1zM102,279h2v1h-2zM121,279h1v1h-1zM197,279h1v1h-1zM608,279h1v1h-1zM926,279h1v1h-1zM990,279h2v1h-2zM104,280h2v1h-2zM121,280h1v1h-1zM198,280h1v1h-1zM608,280h1v1h-1zM926,280h1v1h-1zM989,280h1v1h-1zM106,281h2v1h-2zM120,281h1v1h-1zM198,281h1v1h-1zM607,281h1v1h-1zM927,281h1v1h-1zM988,281h1v1h-1zM108,282h3v1h-3zM119,282h1v1h-1zM199,282h1v1h-1zM606,282h1v1h-1zM927,282h1v1h-1zM987,282h1v1h-1zM111,283h4v1h-4zM118,283h1v1h-1zM199,283h1v1h-1zM606,283h1v1h-1zM928,283h1v1h-1zM987,283h1v1h-1zM115,284h3v1h-3zM200,284h1v1h-1zM605,284h1v1h-1zM928,284h1v1h-1zM986,284h1v1h-1zM200,285h1v1h-1zM525,285h2v1h-2zM604,285h1v1h-1zM929,285h1v1h-1zM985,285h1v1h-1zM201,286h1v1h-1zM524,286h1v1h-1zM527,286h4v1h-4zM604,286h1v1h-1zM929,286h1v1h-1zM984,286h1v1h-1zM201,287h1v1h-1zM523,287h1v1h-1zM531,287h3v1h-3zM603,287h1v1h-1zM930,287h1v1h-1zM983,287h1v1h-1zM202,288h1v1h-1zM522,288h1v1h-1zM534,288h2v1h-2zM603,288h1v1h-1zM930,288h1v1h-1zM983,288h1v1h-1zM202,289h1v1h-1zM521,289h1v1h-1zM536,289h2v1h-2zM602,289h1v1h-1zM931,289h1v1h-1zM982,289h1v1h-1zM203,290h1v1h-1zM521,290h1v1h-1zM538,290h2v1h-2zM601,290h1v1h-1zM931,290h1v1h-1zM981,290h1v1h-1zM203,291h1v1h-1zM520,291h1v1h-1zM540,291h2v1h-2zM601,291h1v1h-1zM932,291h1v1h-1zM980,291h1v1h-1zM204,292h1v1h-1zM519,292h1v1h-1zM542,292h1v1h-1zM600,292h1v1h-1zM932,292h1v1h-1zM979,292h1v1h-1zM204,293h1v1h-1zM518,293h1v1h-1zM543,293h2v1h-2zM599,293h1v1h-1zM933,293h1v1h-1zM978,293h1v1h-1zM205,294h1v1h-1zM517,294h1v1h-1zM545,294h1v1h-1zM599,294h1v1h-1zM933,294h1v1h-1zM977,294h1v1h-1zM205,295h1v1h-1zM516,295h1v1h-1zM546,295h1v1h-1zM598,295h1v1h-1zM934,295h1v1h-1zM976,295h1v1h-1zM206,296h1v1h-1zM516,296h1v1h-1zM547,296h2v1h-2zM598,296h1v1h-1zM934,296h1v1h-1zM975,296h1v1h-1zM206,297h1v1h-1zM515,297h1v1h-1zM549,297h1v1h-1zM597,297h1v1h-1zM935,297h1v1h-1zM974,297h1v1h-1zM207,298h1v1h-1zM514,298h1v1h-1zM550,298h2v1h-2zM596,298h1v1h-1zM936,298h1v1h-1zM971,298h3v1h-3zM207,299h1v1h-1zM273,299h5v1h-5zM514,299h1v1h-1zM552,299h1v1h-1zM595,299h1v1h-1zM936,299h1v1h-1zM967,299h4v1h-4zM208,300h1v1h-1zM269,300h4v1h-4zM278,300h1v1h-1zM513,300h1v1h-1zM553,300h2v1h-2zM594,300h1v1h-1zM937,300h1v1h-1zM965,300h2v1h-2zM208,301h1v1h-1zM267,301h2v1h-2zM279,301h1v1h-1zM512,301h1v1h-1zM555,301h2v1h-2zM593,301h1v1h-1zM938,301h1v1h-1zM963,301h2v1h-2zM209,302h1v1h-1zM265,302h2v1h-2zM280,302h1v1h-1zM512,302h1v1h-1zM557,302h1v1h-1zM592,302h1v1h-1zM938,302h1v1h-1zM962,302h1v1h-1zM209,303h1v1h-1zM264,303h1v1h-1zM281,303h1v1h-1zM511,303h1v1h-1zM558,303h1v1h-1zM591,303h1v1h-1zM939,303h1v1h-1zM961,303h1v1h-1zM210,304h1v1h-1zM262,304h2v1h-2zM281,304h1v1h-1zM510,304h1v1h-1zM559,304h2v1h-2zM590,304h1v1h-1zM940,304h1v1h-1zM959,304h2v1h-2zM210,305h1v1h-1zM260,305h2v1h-2zM282,305h1v1h-1zM510,305h1v1h-1zM561,305h1v1h-1zM589,305h1v1h-1zM940,305h1v1h-1zM958,305h1v1h-1zM211,306h1v1h-1zM258,306h2v1h-2zM283,306h1v1h-1zM291,306h3v1h-3zM509,306h1v1h-1zM562,306h1v1h-1zM587,306h2v1h-2zM941,306h1v1h-1zM957,306h1v1h-1zM211,307h1v1h-1zM256,307h2v1h-2zM284,307h1v1h-1zM287,307h4v1h-4zM294,307h1v1h-1zM509,307h1v1h-1zM563,307h2v1h-2zM585,307h2v1h-2zM942,307h1v1h-1zM955,307h2v1h-2zM212,308h1v1h-1zM254,308h2v1h-2zM285,308h2v1h-2zM295,308h1v1h-1zM508,308h1v1h-1zM565,308h4v1h-4zM584,308h1v1h-1zM943,308h2v1h-2zM954,308h1v1h-1zM212,309h1v1h-1zM253,309h1v1h-1zM296,309h1v1h-1zM508,309h1v1h-1zM569,309h8v1h-8zM582,309h2v1h-2zM945,309h1v1h-1zM953,309h1v1h-1zM213,310h1v1h-1zM252,310h1v1h-1zM297,310h2v1h-2zM508,310h1v1h-1zM577,310h5v1h-5zM946,310h1v1h-1zM951,310h2v1h-2zM214,311h1v1h-1zM252,311h1v1h-1zM299,311h1v1h-1zM507,311h1v1h-1zM947,311h2v1h-2zM950,311h1v1h-1zM215,312h1v1h-1zM251,312h1v1h-1zM300,312h1v1h-1zM507,312h1v1h-1zM949,312h1v1h-1zM216,313h1v1h-1zM251,313h1v1h-1zM301,313h1v1h-1zM507,313h1v1h-1zM217,314h2v1h-2zM250,314h1v1h-1zM301,314h1v1h-1zM506,314h1v1h-1zM219,315h1v1h-1zM250,315h1v1h-1zM302,315h1v1h-1zM506,315h1v1h-1zM220,316h1v1h-1zM249,316h1v1h-1zM302,316h1v1h-1zM506,316h1v1h-1zM221,317h1v1h-1zM248,317h1v1h-1zM303,317h1v1h-1zM505,317h1v1h-1zM222,318h1v1h-1zM248,318h1v1h-1zM303,318h1v1h-1zM505,318h1v1h-1zM223,319h1v1h-1zM247,319h1v1h-1zM304,319h1v1h-1zM505,319h1v1h-1zM224,320h1v1h-1zM247,320h1v1h-1zM304,320h1v1h-1zM505,320h1v1h-1zM225,321h1v1h-1zM246,321h1v1h-1zM305,321h1v1h-1zM504,321h1v1h-1zM226,322h1v1h-1zM246,322h1v1h-1zM305,322h1v1h-1zM504,322h1v1h-1zM227,323h1v1h-1zM245,323h1v1h-1zM305,323h1v1h-1zM504,323h1v1h-1zM228,324h1v1h-1zM244,324h1v1h-1zM306,324h1v1h-1zM503,324h1v1h-1zM229,325h1v1h-1zM243,325h1v1h-1zM306,325h1v1h-1zM503,325h1v1h-1zM230,326h2v1h-2zM241,326h2v1h-2zM307,326h1v1h-1zM503,326h1v1h-1zM232,327h1v1h-1zM240,327h1v1h-1zM307,327h1v1h-1zM502,327h1v1h-1zM233,328h2v1h-2zM239,328h1v1h-1zM308,328h1v1h-1zM502,328h1v1h-1zM235,329h2v1h-2zM238,329h1v1h-1zM308,329h1v1h-1zM502,329h1v1h-1zM237,330h1v1h-1zM309,330h1v1h-1zM501,330h1v1h-1zM309,331h1v1h-1zM501,331h1v1h-1zM310,332h1v1h-1zM501,332h1v1h-1zM311,333h1v1h-1zM500,333h1v1h-1zM311,334h1v1h-1zM500,334h1v1h-1zM312,335h1v1h-1zM500,335h1v1h-1zM313,336h1v1h-1zM499,336h1v1h-1zM314,337h1v1h-1zM499,337h1v1h-1zM315,338h1v1h-1zM324,338h2v1h-2zM498,338h1v1h-1zM315,339h1v1h-1zM321,339h3v1h-3zM326,339h1v1h-1zM498,339h1v1h-1zM316,340h1v1h-1zM319,340h2v1h-2zM326,340h1v1h-1zM498,340h1v1h-1zM317,341h2v1h-2zM327,341h1v1h-1zM497,341h1v1h-1zM328,342h1v1h-1zM497,342h1v1h-1zM329,343h1v1h-1zM497,343h1v1h-1zM329,344h1v1h-1zM496,344h1v1h-1zM330,345h1v1h-1zM496,345h1v1h-1zM331,346h1v1h-1zM496,346h1v1h-1zM332,347h1v1h-1zM495,347h1v1h-1zM332,348h1v1h-1zM495,348h1v1h-1zM333,349h2v1h-2zM494,349h1v1h-1zM335,350h4v1h-4zM494,350h1v1h-1zM339,351h3v1h-3zM494,351h1v1h-1zM341,352h1v1h-1zM493,352h1v1h-1zM342,353h1v1h-1zM493,353h1v1h-1zM342,354h1v1h-1zM493,354h1v1h-1zM343,355h1v1h-1zM492,355h1v1h-1zM343,356h1v1h-1zM492,356h1v1h-1zM344,357h1v1h-1zM491,357h1v1h-1zM344,358h1v1h-1zM491,358h1v1h-1zM344,359h1v1h-1zM490,359h1v1h-1zM345,360h1v1h-1zM490,360h1v1h-1zM345,361h1v1h-1zM489,361h1v1h-1zM346,362h1v1h-1zM489,362h1v1h-1zM346,363h1v1h-1zM489,363h1v1h-1zM346,364h1v1h-1zM488,364h1v1h-1zM347,365h1v1h-1zM488,365h1v1h-1zM347,366h1v1h-1zM487,366h1v1h-1zM348,367h1v1h-1zM487,367h1v1h-1zM348,368h1v1h-1zM486,368h1v1h-1zM349,369h1v1h-1zM486,369h1v1h-1zM349,370h1v1h-1zM485,370h1v1h-1zM349,371h1v1h-1zM485,371h1v1h-1zM350,372h1v1h-1zM485,372h1v1h-1zM350,373h1v1h-1zM484,373h1v1h-1zM351,374h1v1h-1zM484,374h1v1h-1zM351,375h1v1h-1zM483,375h1v1h-1zM351,376h1v1h-1zM483,376h1v1h-1zM352,377h1v1h-1zM482,377h1v1h-1zM352,378h1v1h-1zM482,378h1v1h-1zM353,379h1v1h-1zM481,379h1v1h-1zM353,380h1v1h-1zM481,380h1v1h-1zM353,381h1v1h-1zM481,381h1v1h-1zM354,382h1v1h-1zM480,382h1v1h-1zM354,383h1v1h-1zM480,383h1v1h-1zM355,384h1v1h-1zM479,384h1v1h-1zM355,385h1v1h-1zM479,385h1v1h-1zM355,386h1v1h-1zM478,386h1v1h-1zM356,387h1v1h-1zM478,387h1v1h-1zM356,388h1v1h-1zM477,388h1v1h-1zM357,389h1v1h-1zM477,389h1v1h-1zM357,390h1v1h-1zM477,390h1v1h-1zM358,391h1v1h-1zM477,391h1v1h-1zM359,392h1v1h-1zM373,392h1v1h-1zM476,392h1v1h-1zM360,393h1v1h-1zM371,393h2v1h-2zM374,393h1v1h-1zM476,393h1v1h-1zM361,394h2v1h-2zM369,394h2v1h-2zM374,394h1v1h-1zM476,394h1v1h-1zM363,395h1v1h-1zM368,395h1v1h-1zM375,395h1v1h-1zM476,395h1v1h-1zM364,396h1v1h-1zM366,396h2v1h-2zM376,396h1v1h-1zM475,396h1v1h-1zM365,397h1v1h-1zM376,397h1v1h-1zM475,397h1v1h-1zM377,398h1v1h-1zM475,398h1v1h-1zM378,399h1v1h-1zM475,399h1v1h-1zM378,400h1v1h-1zM474,400h1v1h-1zM379,401h1v1h-1zM474,401h1v1h-1zM380,402h1v1h-1zM474,402h1v1h-1zM380,403h1v1h-1zM474,403h1v1h-1zM381,404h4v1h-4zM473,404h1v1h-1zM385,405h13v1h-13zM473,405h1v1h-1zM398,406h1v1h-1zM473,406h1v1h-1zM399,407h1v1h-1zM473,407h1v1h-1zM400,408h1v1h-1zM472,408h1v1h-1zM401,409h2v1h-2zM472,409h1v1h-1zM403,410h1v1h-1zM472,410h1v1h-1zM404,411h1v1h-1zM472,411h1v1h-1zM405,412h9v1h-9zM471,412h1v1h-1zM414,413h1v1h-1zM471,413h1v1h-1zM414,414h1v1h-1zM471,414h1v1h-1zM415,415h1v1h-1zM471,415h1v1h-1zM415,416h1v1h-1zM470,416h1v1h-1zM416,417h1v1h-1zM470,417h1v1h-1zM416,418h1v1h-1zM470,418h1v1h-1zM417,419h1v1h-1zM470,419h1v1h-1zM418,420h1v1h-1zM469,420h1v1h-1zM418,421h1v1h-1zM469,421h1v1h-1zM419,422h1v1h-1zM469,422h1v1h-1zM419,423h1v1h-1zM468,423h1v1h-1zM420,424h1v1h-1zM468,424h1v1h-1zM420,425h1v1h-1zM467,425h1v1h-1zM421,426h1v1h-1zM467,426h1v1h-1zM422,427h1v1h-1zM466,427h1v1h-1zM423,428h1v1h-1zM466,428h1v1h-1zM424,429h1v1h-1zM465,429h1v1h-1zM425,430h1v1h-1zM465,430h1v1h-1zM426,431h1v1h-1zM464,431h1v1h-1zM427,432h1v1h-1zM464,432h1v1h-1zM428,433h1v1h-1zM463,433h1v1h-1zM429,434h1v1h-1zM463,434h1v1h-1zM430,435h2v1h-2zM462,435h1v1h-1zM432,436h1v1h-1zM462,436h1v1h-1zM433,437h2v1h-2zM461,437h1v1h-1zM435,438h2v1h-2zM460,438h1v1h-1zM437,439h2v1h-2zM460,439h1v1h-1zM439,440h2v1h-2zM459,440h1v1h-1zM441,441h3v1h-3zM459,441h1v1h-1zM444,442h2v1h-2zM458,442h1v1h-1zM446,443h1v1h-1zM457,443h1v1h-1zM447,444h1v1h-1zM457,444h1v1h-1zM448,445h1v1h-1zM456,445h1v1h-1zM449,446h1v1h-1zM455,446h1v1h-1zM450,447h1v1h-1zM455,447h1v1h-1zM451,448h1v1h-1zM454,448h1v1h-1zM452,449h1v1h-1zM454,449h1v1h-1zM453,450h1v1h-1z" fill="#0000ff"/>
<rect x="786" y="109" width="440" height="3" fill="#99cc00"/>
<rect x="795" y="181" width="434" height="3" fill="#2e8ce2"/>
</g>
<path d="M8,39.5 L11.5,36 L15,39.5 Z" fill="#000" shape-rendering="auto"/>
<text transform="translate(20,41) scale(0.97,1)" class="s">USDCHF-,Daily</text>
<text transform="translate(94.4,41) scale(0.97,1)" class="s" textLength="33.61" lengthAdjust="spacingAndGlyphs">1.01432</text>
<text transform="translate(130.5,41) scale(0.97,1)" class="s" textLength="33.61" lengthAdjust="spacingAndGlyphs">1.01453</text>
<text transform="translate(166.1,41) scale(0.97,1)" class="s" textLength="33.61" lengthAdjust="spacingAndGlyphs">1.01432</text>
<text transform="translate(202.1,41) scale(0.97,1)" class="s" textLength="33.61" lengthAdjust="spacingAndGlyphs">1.01440</text>
<path d="M8,49 H60 V73 H117 V113 H8 Z" fill="#a80000"/>
<rect x="9" y="50" width="50" height="23" fill="url(#gtab)"/>
<rect x="9" y="73" width="107" height="39" fill="url(#gblk)"/>
<rect x="12" y="72" width="44" height="1" fill="#990000"/>
<rect x="12" y="73" width="44" height="1" fill="#f07070"/>
<path d="M175,49 H227 V113 H119 V73 H175 Z" fill="#a80000"/>
<rect x="176" y="50" width="50" height="23" fill="url(#gtab)"/>
<rect x="120" y="73" width="106" height="39" fill="url(#gblk)"/>
<rect x="179" y="72" width="44" height="1" fill="#990000"/>
<rect x="179" y="73" width="44" height="1" fill="#f07070"/>
<text x="20" y="65" font-size="12.5" fill="#ffecec" textLength="26.5" lengthAdjust="spacingAndGlyphs">SELL</text>
<text x="188.5" y="65" font-size="12.5" fill="#ffecec" textLength="23.8" lengthAdjust="spacingAndGlyphs">BUY</text>
<rect x="62" y="49" width="111" height="22" fill="#a8a8a8"/>
<rect x="63" y="50" width="109" height="20" fill="#ffffff"/>
<rect x="64" y="51" width="19" height="18" fill="url(#gbtn)"/>
<rect x="83" y="50" width="1" height="20" fill="#a8a8a8"/>
<rect x="152" y="51" width="19" height="18" fill="url(#gbtn)"/>
<rect x="151" y="50" width="1" height="20" fill="#a8a8a8"/>
<path d="M70,58 L75,58 L72.5,61 Z" fill="#3e5bbf" shape-rendering="auto"/>
<path d="M159,61 L164,61 L161.5,58 Z" fill="#3e5bbf" shape-rendering="auto"/>
<text x="124.5" y="64" font-size="12" fill="#000">1.00</text>
<text x="28" y="104" font-size="12" font-weight="bold" fill="#fff">1.01</text>
<text x="54" y="104" font-size="33" fill="#fff">44</text>
<text x="94.5" y="88" font-size="11" font-weight="bold" fill="#fff">0</text>
<text x="138" y="104" font-size="12" font-weight="bold" fill="#fff">1.01</text>
<text x="165" y="104" font-size="33" fill="#fff">46</text>
<text x="205.5" y="88" font-size="11" font-weight="bold" fill="#fff">4</text>
<g clip-path="url(#cmacd)">
<rect x="5" y="586" width="1" height="45" fill="#c0c0c0"/>
<rect x="13" y="586" width="1" height="45" fill="#c0c0c0"/>
<rect x="21" y="583" width="1" height="48" fill="#c0c0c0"/>
<rect x="29" y="585" width="1" height="46" fill="#c0c0c0"/>
<rect x="37" y="586" width="1" height="45" fill="#c0c0c0"/>
<rect x="45" y="587" width="1" height="44" fill="#c0c0c0"/>
<rect x="53" y="595" width="1" height="36" fill="#c0c0c0"/>
<rect x="61" y="601" width="1" height="30" fill="#c0c0c0"/>
<rect x="69" y="612" width="1" height="19" fill="#c0c0c0"/>
<rect x="77" y="620" width="1" height="11" fill="#c0c0c0"/>
<rect x="85" y="626" width="1" height="5" fill="#c0c0c0"/>
<rect x="93" y="630" width="1" height="1" fill="#c0c0c0"/>
<rect x="101" y="630" width="1" height="3" fill="#c0c0c0"/>
<rect x="109" y="630" width="1" height="4" fill="#c0c0c0"/>
<rect x="117" y="630" width="1" height="4" fill="#c0c0c0"/>
<rect x="125" y="630" width="1" height="3" fill="#c0c0c0"/>
<rect x="133" y="630" width="1" height="8" fill="#c0c0c0"/>
<rect x="141" y="630" width="1" height="9" fill="#c0c0c0"/>
<rect x="149" y="630" width="1" height="6" fill="#c0c0c0"/>
<rect x="157" y="630" width="1" height="5" fill="#c0c0c0"/>
<rect x="165" y="630" width="1" height="5" fill="#c0c0c0"/>
<rect x="173" y="630" width="1" height="5" fill="#c0c0c0"/>
<rect x="181" y="630" width="1" height="5" fill="#c0c0c0"/>
<rect x="189" y="630" width="1" height="9" fill="#c0c0c0"/>
<rect x="197" y="630" width="1" height="15" fill="#c0c0c0"/>
<rect x="205" y="630" width="1" height="19" fill="#c0c0c0"/>
<rect x="213" y="630" width="1" height="22" fill="#c0c0c0"/>
<rect x="221" y="630" width="1" height="21" fill="#c0c0c0"/>
<rect x="229" y="630" width="1" height="21" fill="#c0c0c0"/>
<rect x="237" y="630" width="1" height="19" fill="#c0c0c0"/>
<rect x="245" y="630" width="1" height="15" fill="#c0c0c0"/>
<rect x="253" y="630" width="1" height="11" fill="#c0c0c0"/>
<rect x="261" y="630" width="1" height="12" fill="#c0c0c0"/>
<rect x="269" y="630" width="1" height="13" fill="#c0c0c0"/>
<rect x="277" y="630" width="1" height="12" fill="#c0c0c0"/>
<rect x="285" y="630" width="1" height="18" fill="#c0c0c0"/>
<rect x="293" y="630" width="1" height="15" fill="#c0c0c0"/>
<rect x="301" y="630" width="1" height="13" fill="#c0c0c0"/>
<rect x="309" y="630" width="1" height="19" fill="#c0c0c0"/>
<rect x="317" y="630" width="1" height="22" fill="#c0c0c0"/>
<rect x="325" y="630" width="1" height="18" fill="#c0c0c0"/>
<rect x="333" y="630" width="1" height="21" fill="#c0c0c0"/>
<rect x="341" y="630" width="1" height="24" fill="#c0c0c0"/>
<rect x="349" y="630" width="1" height="28" fill="#c0c0c0"/>
<rect x="357" y="630" width="1" height="33" fill="#c0c0c0"/>
<rect x="365" y="630" width="1" height="36" fill="#c0c0c0"/>
<rect x="373" y="630" width="1" height="31" fill="#c0c0c0"/>
<rect x="381" y="630" width="1" height="29" fill="#c0c0c0"/>
<rect x="389" y="630" width="1" height="28" fill="#c0c0c0"/>
<rect x="397" y="630" width="1" height="27" fill="#c0c0c0"/>
<rect x="405" y="630" width="1" height="32" fill="#c0c0c0"/>
<rect x="413" y="630" width="1" height="34" fill="#c0c0c0"/>
<rect x="421" y="630" width="1" height="41" fill="#c0c0c0"/>
<rect x="429" y="630" width="1" height="38" fill="#c0c0c0"/>
<rect x="437" y="630" width="1" height="34" fill="#c0c0c0"/>
<rect x="445" y="630" width="1" height="31" fill="#c0c0c0"/>
<rect x="453" y="630" width="1" height="31" fill="#c0c0c0"/>
<rect x="461" y="630" width="1" height="25" fill="#c0c0c0"/>
<rect x="469" y="630" width="1" height="18" fill="#c0c0c0"/>
<rect x="477" y="630" width="1" height="9" fill="#c0c0c0"/>
<rect x="485" y="630" width="1" height="1" fill="#c0c0c0"/>
<rect x="493" y="623" width="1" height="8" fill="#c0c0c0"/>
<rect x="501" y="616" width="1" height="15" fill="#c0c0c0"/>
<rect x="509" y="611" width="1" height="20" fill="#c0c0c0"/>
<rect x="517" y="610" width="1" height="21" fill="#c0c0c0"/>
<rect x="525" y="608" width="1" height="23" fill="#c0c0c0"/>
<rect x="533" y="609" width="1" height="22" fill="#c0c0c0"/>
<rect x="541" y="611" width="1" height="20" fill="#c0c0c0"/>
<rect x="549" y="613" width="1" height="18" fill="#c0c0c0"/>
<rect x="557" y="612" width="1" height="19" fill="#c0c0c0"/>
<rect x="565" y="613" width="1" height="18" fill="#c0c0c0"/>
<rect x="573" y="613" width="1" height="18" fill="#c0c0c0"/>
<rect x="581" y="613" width="1" height="18" fill="#c0c0c0"/>
<rect x="589" y="612" width="1" height="19" fill="#c0c0c0"/>
<rect x="597" y="610" width="1" height="21" fill="#c0c0c0"/>
<rect x="605" y="606" width="1" height="25" fill="#c0c0c0"/>
<rect x="613" y="602" width="1" height="29" fill="#c0c0c0"/>
<rect x="621" y="599" width="1" height="32" fill="#c0c0c0"/>
<rect x="629" y="599" width="1" height="32" fill="#c0c0c0"/>
<rect x="637" y="600" width="1" height="31" fill="#c0c0c0"/>
<rect x="645" y="597" width="1" height="34" fill="#c0c0c0"/>
<rect x="653" y="593" width="1" height="38" fill="#c0c0c0"/>
<rect x="661" y="588" width="1" height="43" fill="#c0c0c0"/>
<rect x="669" y="588" width="1" height="43" fill="#c0c0c0"/>
<rect x="677" y="589" width="1" height="42" fill="#c0c0c0"/>
<rect x="685" y="590" width="1" height="41" fill="#c0c0c0"/>
<rect x="693" y="591" width="1" height="40" fill="#c0c0c0"/>
<rect x="701" y="595" width="1" height="36" fill="#c0c0c0"/>
<rect x="709" y="600" width="1" height="31" fill="#c0c0c0"/>
<rect x="717" y="603" width="1" height="28" fill="#c0c0c0"/>
<rect x="725" y="607" width="1" height="24" fill="#c0c0c0"/>
<rect x="733" y="611" width="1" height="20" fill="#c0c0c0"/>
<rect x="741" y="613" width="1" height="18" fill="#c0c0c0"/>
<rect x="749" y="616" width="1" height="15" fill="#c0c0c0"/>
<rect x="757" y="617" width="1" height="14" fill="#c0c0c0"/>
<rect x="765" y="621" width="1" height="10" fill="#c0c0c0"/>
<rect x="773" y="623" width="1" height="8" fill="#c0c0c0"/>
<rect x="781" y="625" width="1" height="6" fill="#c0c0c0"/>
<rect x="789" y="626" width="1" height="5" fill="#c0c0c0"/>
<rect x="797" y="622" width="1" height="9" fill="#c0c0c0"/>
<rect x="805" y="620" width="1" height="11" fill="#c0c0c0"/>
<rect x="813" y="612" width="1" height="19" fill="#c0c0c0"/>
<rect x="821" y="609" width="1" height="22" fill="#c0c0c0"/>
<rect x="829" y="607" width="1" height="24" fill="#c0c0c0"/>
<rect x="837" y="603" width="1" height="28" fill="#c0c0c0"/>
<rect x="845" y="603" width="1" height="28" fill="#c0c0c0"/>
<rect x="853" y="607" width="1" height="24" fill="#c0c0c0"/>
<rect x="861" y="610" width="1" height="21" fill="#c0c0c0"/>
<rect x="869" y="614" width="1" height="17" fill="#c0c0c0"/>
<rect x="877" y="617" width="1" height="14" fill="#c0c0c0"/>
<rect x="885" y="620" width="1" height="11" fill="#c0c0c0"/>
<rect x="893" y="625" width="1" height="6" fill="#c0c0c0"/>
<rect x="901" y="630" width="1" height="7" fill="#c0c0c0"/>
<rect x="909" y="630" width="1" height="14" fill="#c0c0c0"/>
<rect x="917" y="630" width="1" height="17" fill="#c0c0c0"/>
<rect x="925" y="630" width="1" height="20" fill="#c0c0c0"/>
<rect x="933" y="630" width="1" height="24" fill="#c0c0c0"/>
<rect x="941" y="630" width="1" height="25" fill="#c0c0c0"/>
<rect x="949" y="630" width="1" height="25" fill="#c0c0c0"/>
<rect x="957" y="630" width="1" height="25" fill="#c0c0c0"/>
<rect x="965" y="630" width="1" height="23" fill="#c0c0c0"/>
<rect x="973" y="630" width="1" height="22" fill="#c0c0c0"/>
<rect x="981" y="630" width="1" height="18" fill="#c0c0c0"/>
<rect x="989" y="630" width="1" height="15" fill="#c0c0c0"/>
<rect x="997" y="630" width="1" height="14" fill="#c0c0c0"/>
<rect x="1005" y="630" width="1" height="10" fill="#c0c0c0"/>
<rect x="1013" y="630" width="1" height="7" fill="#c0c0c0"/>
<rect x="1021" y="630" width="1" height="5" fill="#c0c0c0"/>
<rect x="1029" y="630" width="1" height="4" fill="#c0c0c0"/>
<rect x="1037" y="630" width="1" height="2" fill="#c0c0c0"/>
<rect x="1045" y="628" width="1" height="3" fill="#c0c0c0"/>
<rect x="1053" y="625" width="1" height="6" fill="#c0c0c0"/>
<rect x="1061" y="623" width="1" height="8" fill="#c0c0c0"/>
<rect x="1069" y="621" width="1" height="10" fill="#c0c0c0"/>
<rect x="1077" y="619" width="1" height="12" fill="#c0c0c0"/>
<rect x="1085" y="614" width="1" height="17" fill="#c0c0c0"/>
<rect x="1093" y="608" width="1" height="23" fill="#c0c0c0"/>
<rect x="1101" y="599" width="1" height="32" fill="#c0c0c0"/>
<rect x="1109" y="594" width="1" height="37" fill="#c0c0c0"/>
<rect x="1117" y="590" width="1" height="41" fill="#c0c0c0"/>
<path d="M5,578h3v1h-3zM11,578h3v1h-3zM17,579h2v1h-2zM19,580h1v1h-1zM23,580h3v1h-3zM29,580h2v1h-2zM31,581h1v1h-1zM35,582h3v1h-3zM41,583h3v1h-3zM47,584h3v1h-3zM53,585h2v1h-2zM55,586h1v1h-1zM59,587h3v1h-3zM65,589h1v1h-1zM66,590h2v1h-2zM71,592h1v1h-1zM697,592h1v1h-1zM701,592h3v1h-3zM707,592h3v1h-3zM72,593h2v1h-2zM683,593h3v1h-3zM689,593h3v1h-3zM695,593h2v1h-2zM713,593h3v1h-3zM679,594h1v1h-1zM719,594h3v1h-3zM77,595h1v1h-1zM677,595h2v1h-2zM725,595h2v1h-2zM78,596h2v1h-2zM671,596h3v1h-3zM727,596h1v1h-1zM667,597h1v1h-1zM731,597h3v1h-3zM83,598h1v1h-1zM665,598h2v1h-2zM84,599h2v1h-2zM660,599h2v1h-2zM737,599h3v1h-3zM659,600h1v1h-1zM655,601h1v1h-1zM743,601h2v1h-2zM89,602h1v1h-1zM653,602h2v1h-2zM745,602h1v1h-1zM90,603h1v1h-1zM647,603h3v1h-3zM749,603h2v1h-2zM91,604h1v1h-1zM643,604h1v1h-1zM751,604h1v1h-1zM641,605h2v1h-2zM755,605h1v1h-1zM95,606h1v1h-1zM635,606h3v1h-3zM756,606h2v1h-2zM96,607h1v1h-1zM629,607h3v1h-3zM97,608h1v1h-1zM623,608h3v1h-3zM761,608h3v1h-3zM617,609h3v1h-3zM875,609h3v1h-3zM101,610h1v1h-1zM611,610h3v1h-3zM767,610h2v1h-2zM859,610h1v1h-1zM863,610h3v1h-3zM869,610h3v1h-3zM881,610h3v1h-3zM1117,610h1v1h-1zM102,611h2v1h-2zM563,611h3v1h-3zM569,611h3v1h-3zM575,611h3v1h-3zM581,611h3v1h-3zM587,611h3v1h-3zM601,611h1v1h-1zM605,611h3v1h-3zM769,611h1v1h-1zM857,611h2v1h-2zM887,611h3v1h-3zM1115,611h2v1h-2zM559,612h1v1h-1zM593,612h3v1h-3zM599,612h2v1h-2zM773,612h2v1h-2zM851,612h3v1h-3zM893,612h2v1h-2zM557,613h2v1h-2zM775,613h1v1h-1zM847,613h1v1h-1zM895,613h1v1h-1zM107,614h2v1h-2zM551,614h3v1h-3zM779,614h1v1h-1zM845,614h2v1h-2zM899,614h1v1h-1zM1110,614h2v1h-2zM109,615h1v1h-1zM547,615h1v1h-1zM780,615h2v1h-2zM839,615h3v1h-3zM900,615h2v1h-2zM1109,615h1v1h-1zM545,616h2v1h-2zM835,616h1v1h-1zM540,617h2v1h-2zM785,617h3v1h-3zM833,617h2v1h-2zM905,617h1v1h-1zM1104,617h2v1h-2zM113,618h2v1h-2zM539,618h1v1h-1zM791,618h2v1h-2zM827,618h3v1h-3zM906,618h2v1h-2zM1103,618h1v1h-1zM115,619h1v1h-1zM793,619h1v1h-1zM797,619h3v1h-3zM817,619h1v1h-1zM821,619h3v1h-3zM534,620h2v1h-2zM803,620h3v1h-3zM809,620h3v1h-3zM815,620h2v1h-2zM911,620h1v1h-1zM1097,620h3v1h-3zM119,621h1v1h-1zM533,621h1v1h-1zM912,621h1v1h-1zM120,622h2v1h-2zM913,622h1v1h-1zM1092,622h2v1h-2zM529,623h1v1h-1zM1091,623h1v1h-1zM125,624h1v1h-1zM528,624h1v1h-1zM917,624h1v1h-1zM1087,624h1v1h-1zM126,625h2v1h-2zM527,625h1v1h-1zM918,625h2v1h-2zM1085,625h2v1h-2zM1081,626h1v1h-1zM131,627h1v1h-1zM523,627h1v1h-1zM1079,627h2v1h-2zM132,628h2v1h-2zM522,628h1v1h-1zM923,628h2v1h-2zM1075,628h1v1h-1zM521,629h1v1h-1zM925,629h1v1h-1zM1073,629h2v1h-2zM137,630h3v1h-3zM1067,630h3v1h-3zM1063,631h1v1h-1zM143,632h3v1h-3zM517,632h1v1h-1zM929,632h2v1h-2zM1061,632h2v1h-2zM149,633h3v1h-3zM515,633h2v1h-2zM931,633h1v1h-1zM1057,633h1v1h-1zM155,634h3v1h-3zM161,634h3v1h-3zM167,634h3v1h-3zM173,634h3v1h-3zM179,634h3v1h-3zM1055,634h2v1h-2zM185,635h3v1h-3zM191,635h2v1h-2zM935,635h1v1h-1zM1051,635h1v1h-1zM193,636h1v1h-1zM197,636h2v1h-2zM511,636h1v1h-1zM936,636h2v1h-2zM1049,636h2v1h-2zM199,637h1v1h-1zM510,637h1v1h-1zM1044,637h2v1h-2zM203,638h3v1h-3zM509,638h1v1h-1zM941,638h1v1h-1zM1043,638h1v1h-1zM209,639h3v1h-3zM942,639h2v1h-2zM1039,639h1v1h-1zM215,640h3v1h-3zM1037,640h2v1h-2zM221,641h2v1h-2zM505,641h1v1h-1zM947,641h1v1h-1zM1031,641h3v1h-3zM223,642h1v1h-1zM503,642h2v1h-2zM948,642h2v1h-2zM1027,642h1v1h-1zM227,643h3v1h-3zM299,643h3v1h-3zM305,643h3v1h-3zM311,643h2v1h-2zM1025,643h2v1h-2zM233,644h3v1h-3zM239,644h2v1h-2zM289,644h1v1h-1zM293,644h3v1h-3zM313,644h1v1h-1zM317,644h3v1h-3zM953,644h1v1h-1zM1020,644h2v1h-2zM241,645h1v1h-1zM245,645h3v1h-3zM275,645h3v1h-3zM281,645h3v1h-3zM287,645h2v1h-2zM323,645h3v1h-3zM499,645h1v1h-1zM954,645h2v1h-2zM1019,645h1v1h-1zM251,646h3v1h-3zM257,646h3v1h-3zM263,646h3v1h-3zM269,646h3v1h-3zM329,646h3v1h-3zM335,646h2v1h-2zM497,646h2v1h-2zM1015,646h1v1h-1zM337,647h1v1h-1zM341,647h2v1h-2zM959,647h2v1h-2zM1013,647h2v1h-2zM343,648h1v1h-1zM961,648h1v1h-1zM1007,648h3v1h-3zM347,649h3v1h-3zM493,649h1v1h-1zM965,649h2v1h-2zM1001,649h3v1h-3zM353,650h2v1h-2zM491,650h2v1h-2zM967,650h1v1h-1zM995,650h3v1h-3zM355,651h1v1h-1zM971,651h3v1h-3zM977,651h3v1h-3zM983,651h3v1h-3zM989,651h3v1h-3zM359,652h3v1h-3zM365,653h2v1h-2zM486,653h2v1h-2zM367,654h1v1h-1zM485,654h1v1h-1zM371,655h3v1h-3zM377,656h3v1h-3zM383,656h2v1h-2zM480,656h2v1h-2zM385,657h1v1h-1zM389,657h3v1h-3zM479,657h1v1h-1zM395,658h3v1h-3zM401,659h3v1h-3zM407,659h2v1h-2zM473,659h3v1h-3zM409,660h1v1h-1zM413,660h3v1h-3zM419,661h3v1h-3zM467,661h3v1h-3zM425,662h3v1h-3zM431,662h3v1h-3zM437,662h3v1h-3zM443,662h3v1h-3zM449,662h3v1h-3zM455,662h3v1h-3zM461,662h3v1h-3z" fill="#ff0000"/>
</g>
<text transform="translate(9,584) scale(0.97,1)" class="s">MACD(12,26,9) 0.003767 0.001848</text>
<g clip-path="url(#crsi)">
<line x1="6" y1="717.5" x2="1420" y2="717.5" stroke="#c0c0c0" stroke-dasharray="3,3"/>
<line x1="6" y1="768.5" x2="1420" y2="768.5" stroke="#c0c0c0" stroke-dasharray="3,3"/>
<path d="M1101,707h1v1h-1zM1100,708h1v1h-1zM1102,708h2v1h-2zM1099,709h1v1h-1zM1104,709h2v1h-2zM1097,710h2v1h-2zM1106,710h2v1h-2zM1096,711h1v1h-1zM1108,711h10v1h-10zM1095,712h1v1h-1zM1094,713h1v1h-1zM1093,714h1v1h-1zM1091,715h2v1h-2zM660,716h2v1h-2zM1089,716h2v1h-2zM658,717h2v1h-2zM662,717h1v1h-1zM1088,717h1v1h-1zM656,718h2v1h-2zM662,718h1v1h-1zM813,718h1v1h-1zM1086,718h2v1h-2zM654,719h2v1h-2zM663,719h1v1h-1zM812,719h1v1h-1zM814,719h1v1h-1zM1085,719h1v1h-1zM21,720h1v1h-1zM652,720h2v1h-2zM664,720h1v1h-1zM812,720h1v1h-1zM814,720h1v1h-1zM1084,720h1v1h-1zM19,721h2v1h-2zM22,721h1v1h-1zM649,721h3v1h-3zM665,721h1v1h-1zM811,721h1v1h-1zM815,721h1v1h-1zM1083,721h1v1h-1zM18,722h1v1h-1zM22,722h1v1h-1zM612,722h10v1h-10zM647,722h2v1h-2zM665,722h1v1h-1zM811,722h1v1h-1zM816,722h1v1h-1zM1082,722h1v1h-1zM17,723h1v1h-1zM23,723h1v1h-1zM610,723h2v1h-2zM622,723h1v1h-1zM645,723h2v1h-2zM666,723h1v1h-1zM810,723h1v1h-1zM817,723h1v1h-1zM1081,723h1v1h-1zM15,724h2v1h-2zM24,724h1v1h-1zM608,724h2v1h-2zM623,724h1v1h-1zM644,724h1v1h-1zM667,724h1v1h-1zM809,724h1v1h-1zM817,724h1v1h-1zM836,724h2v1h-2zM1081,724h1v1h-1zM14,725h1v1h-1zM25,725h1v1h-1zM606,725h2v1h-2zM624,725h1v1h-1zM643,725h1v1h-1zM668,725h1v1h-1zM809,725h1v1h-1zM818,725h1v1h-1zM834,725h2v1h-2zM838,725h1v1h-1zM1080,725h1v1h-1zM9,726h5v1h-5zM25,726h1v1h-1zM604,726h2v1h-2zM625,726h1v1h-1zM642,726h1v1h-1zM668,726h1v1h-1zM808,726h1v1h-1zM819,726h1v1h-1zM832,726h2v1h-2zM839,726h1v1h-1zM1079,726h1v1h-1zM5,727h4v1h-4zM26,727h1v1h-1zM602,727h2v1h-2zM626,727h1v1h-1zM641,727h1v1h-1zM669,727h12v1h-12zM807,727h1v1h-1zM820,727h1v1h-1zM830,727h2v1h-2zM840,727h1v1h-1zM1078,727h1v1h-1zM27,728h1v1h-1zM600,728h2v1h-2zM627,728h1v1h-1zM640,728h1v1h-1zM681,728h13v1h-13zM807,728h1v1h-1zM820,728h1v1h-1zM825,728h5v1h-5zM841,728h1v1h-1zM1076,728h2v1h-2zM28,729h1v1h-1zM43,729h3v1h-3zM499,729h6v1h-6zM598,729h2v1h-2zM628,729h1v1h-1zM639,729h1v1h-1zM694,729h1v1h-1zM806,729h1v1h-1zM821,729h4v1h-4zM842,729h1v1h-1zM1074,729h2v1h-2zM28,730h1v1h-1zM39,730h4v1h-4zM46,730h1v1h-1zM495,730h4v1h-4zM505,730h5v1h-5zM596,730h2v1h-2zM629,730h4v1h-4zM638,730h1v1h-1zM695,730h1v1h-1zM797,730h4v1h-4zM806,730h1v1h-1zM843,730h1v1h-1zM1072,730h2v1h-2zM29,731h10v1h-10zM46,731h1v1h-1zM489,731h6v1h-6zM510,731h2v1h-2zM594,731h2v1h-2zM633,731h5v1h-5zM695,731h1v1h-1zM796,731h1v1h-1zM801,731h5v1h-5zM844,731h1v1h-1zM1049,731h16v1h-16zM1070,731h2v1h-2zM47,732h1v1h-1zM481,732h8v1h-8zM512,732h2v1h-2zM592,732h2v1h-2zM696,732h1v1h-1zM796,732h1v1h-1zM845,732h1v1h-1zM1045,732h4v1h-4zM1065,732h5v1h-5zM47,733h1v1h-1zM477,733h4v1h-4zM514,733h2v1h-2zM521,733h5v1h-5zM590,733h2v1h-2zM697,733h1v1h-1zM795,733h1v1h-1zM846,733h1v1h-1zM1044,733h1v1h-1zM48,734h1v1h-1zM475,734h2v1h-2zM516,734h5v1h-5zM526,734h2v1h-2zM585,734h5v1h-5zM698,734h1v1h-1zM795,734h1v1h-1zM847,734h1v1h-1zM1043,734h1v1h-1zM48,735h1v1h-1zM473,735h2v1h-2zM528,735h1v1h-1zM557,735h2v1h-2zM579,735h6v1h-6zM699,735h1v1h-1zM794,735h1v1h-1zM847,735h1v1h-1zM1041,735h2v1h-2zM49,736h1v1h-1zM472,736h1v1h-1zM529,736h2v1h-2zM555,736h2v1h-2zM559,736h2v1h-2zM575,736h4v1h-4zM699,736h1v1h-1zM794,736h1v1h-1zM848,736h1v1h-1zM1040,736h1v1h-1zM49,737h1v1h-1zM470,737h2v1h-2zM531,737h2v1h-2zM554,737h1v1h-1zM561,737h3v1h-3zM569,737h6v1h-6zM700,737h1v1h-1zM793,737h1v1h-1zM849,737h1v1h-1zM1039,737h1v1h-1zM50,738h1v1h-1zM245,738h9v1h-9zM468,738h2v1h-2zM533,738h4v1h-4zM553,738h1v1h-1zM564,738h5v1h-5zM701,738h2v1h-2zM792,738h1v1h-1zM850,738h1v1h-1zM1005,738h18v1h-18zM1038,738h1v1h-1zM50,739h1v1h-1zM244,739h1v1h-1zM254,739h1v1h-1zM465,739h3v1h-3zM537,739h6v1h-6zM551,739h2v1h-2zM703,739h2v1h-2zM715,739h4v1h-4zM792,739h1v1h-1zM851,739h1v1h-1zM1004,739h1v1h-1zM1023,739h2v1h-2zM1035,739h3v1h-3zM51,740h1v1h-1zM149,740h2v1h-2zM243,740h1v1h-1zM254,740h1v1h-1zM463,740h2v1h-2zM543,740h4v1h-4zM550,740h1v1h-1zM705,740h3v1h-3zM711,740h4v1h-4zM719,740h4v1h-4zM755,740h3v1h-3zM791,740h1v1h-1zM851,740h1v1h-1zM981,740h2v1h-2zM1003,740h1v1h-1zM1025,740h3v1h-3zM1031,740h4v1h-4zM51,741h1v1h-1zM148,741h1v1h-1zM151,741h4v1h-4zM243,741h1v1h-1zM255,741h1v1h-1zM325,741h1v1h-1zM461,741h2v1h-2zM547,741h3v1h-3zM708,741h3v1h-3zM723,741h6v1h-6zM737,741h8v1h-8zM751,741h4v1h-4zM758,741h1v1h-1zM791,741h1v1h-1zM852,741h1v1h-1zM857,741h6v1h-6zM980,741h1v1h-1zM983,741h2v1h-2zM1001,741h2v1h-2zM1028,741h3v1h-3zM52,742h1v1h-1zM147,742h1v1h-1zM155,742h4v1h-4zM242,742h1v1h-1zM256,742h1v1h-1zM293,742h2v1h-2zM324,742h1v1h-1zM326,742h1v1h-1zM460,742h1v1h-1zM729,742h8v1h-8zM745,742h6v1h-6zM759,742h1v1h-1zM790,742h1v1h-1zM853,742h4v1h-4zM863,742h2v1h-2zM980,742h1v1h-1zM985,742h3v1h-3zM1000,742h1v1h-1zM52,743h1v1h-1zM121,743h5v1h-5zM145,743h2v1h-2zM159,743h4v1h-4zM241,743h1v1h-1zM256,743h1v1h-1zM293,743h1v1h-1zM295,743h4v1h-4zM324,743h1v1h-1zM327,743h1v1h-1zM459,743h1v1h-1zM759,743h1v1h-1zM773,743h2v1h-2zM790,743h1v1h-1zM865,743h3v1h-3zM979,743h1v1h-1zM988,743h3v1h-3zM999,743h1v1h-1zM53,744h1v1h-1zM115,744h6v1h-6zM126,744h1v1h-1zM144,744h1v1h-1zM163,744h6v1h-6zM240,744h1v1h-1zM257,744h1v1h-1zM292,744h1v1h-1zM299,744h3v1h-3zM323,744h1v1h-1zM327,744h1v1h-1zM458,744h1v1h-1zM760,744h1v1h-1zM772,744h1v1h-1zM775,744h4v1h-4zM785,744h5v1h-5zM868,744h11v1h-11zM978,744h1v1h-1zM991,744h4v1h-4zM998,744h1v1h-1zM53,745h9v1h-9zM111,745h4v1h-4zM126,745h1v1h-1zM143,745h1v1h-1zM169,745h8v1h-8zM239,745h1v1h-1zM258,745h1v1h-1zM292,745h1v1h-1zM302,745h1v1h-1zM323,745h1v1h-1zM328,745h1v1h-1zM373,745h2v1h-2zM457,745h1v1h-1zM761,745h1v1h-1zM771,745h1v1h-1zM779,745h6v1h-6zM879,745h2v1h-2zM977,745h1v1h-1zM995,745h3v1h-3zM62,746h1v1h-1zM101,746h10v1h-10zM127,746h1v1h-1zM142,746h1v1h-1zM177,746h5v1h-5zM239,746h1v1h-1zM258,746h1v1h-1zM276,746h2v1h-2zM291,746h1v1h-1zM302,746h1v1h-1zM322,746h1v1h-1zM329,746h1v1h-1zM372,746h1v1h-1zM375,746h4v1h-4zM433,746h8v1h-8zM457,746h1v1h-1zM762,746h1v1h-1zM769,746h2v1h-2zM881,746h3v1h-3zM977,746h1v1h-1zM63,747h1v1h-1zM99,747h2v1h-2zM128,747h1v1h-1zM141,747h1v1h-1zM182,747h1v1h-1zM238,747h1v1h-1zM259,747h1v1h-1zM274,747h2v1h-2zM278,747h1v1h-1zM291,747h1v1h-1zM303,747h1v1h-1zM322,747h1v1h-1zM330,747h1v1h-1zM372,747h1v1h-1zM379,747h6v1h-6zM429,747h4v1h-4zM441,747h6v1h-6zM456,747h1v1h-1zM763,747h1v1h-1zM768,747h1v1h-1zM884,747h2v1h-2zM976,747h1v1h-1zM63,748h1v1h-1zM98,748h1v1h-1zM129,748h1v1h-1zM140,748h1v1h-1zM183,748h1v1h-1zM235,748h3v1h-3zM260,748h1v1h-1zM272,748h2v1h-2zM278,748h1v1h-1zM290,748h1v1h-1zM304,748h1v1h-1zM321,748h1v1h-1zM331,748h1v1h-1zM371,748h1v1h-1zM385,748h8v1h-8zM429,748h1v1h-1zM447,748h2v1h-2zM455,748h1v1h-1zM763,748h1v1h-1zM767,748h1v1h-1zM886,748h2v1h-2zM975,748h1v1h-1zM64,749h1v1h-1zM97,749h1v1h-1zM129,749h1v1h-1zM139,749h1v1h-1zM184,749h1v1h-1zM221,749h4v1h-4zM231,749h4v1h-4zM260,749h1v1h-1zM270,749h2v1h-2zM279,749h1v1h-1zM290,749h1v1h-1zM304,749h1v1h-1zM320,749h1v1h-1zM331,749h1v1h-1zM370,749h1v1h-1zM393,749h5v1h-5zM428,749h1v1h-1zM449,749h3v1h-3zM454,749h1v1h-1zM764,749h1v1h-1zM766,749h1v1h-1zM888,749h1v1h-1zM964,749h3v1h-3zM974,749h1v1h-1zM65,750h1v1h-1zM95,750h2v1h-2zM130,750h1v1h-1zM137,750h2v1h-2zM185,750h1v1h-1zM220,750h1v1h-1zM225,750h6v1h-6zM261,750h9v1h-9zM279,750h1v1h-1zM289,750h1v1h-1zM305,750h1v1h-1zM320,750h1v1h-1zM332,750h1v1h-1zM369,750h1v1h-1zM398,750h1v1h-1zM428,750h1v1h-1zM452,750h2v1h-2zM765,750h1v1h-1zM889,750h2v1h-2zM961,750h3v1h-3zM967,750h4v1h-4zM974,750h1v1h-1zM66,751h1v1h-1zM94,751h1v1h-1zM131,751h1v1h-1zM136,751h1v1h-1zM186,751h1v1h-1zM219,751h1v1h-1zM280,751h1v1h-1zM289,751h1v1h-1zM306,751h1v1h-1zM319,751h1v1h-1zM333,751h2v1h-2zM369,751h1v1h-1zM399,751h1v1h-1zM427,751h1v1h-1zM891,751h2v1h-2zM959,751h2v1h-2zM971,751h3v1h-3zM67,752h1v1h-1zM76,752h5v1h-5zM89,752h5v1h-5zM132,752h1v1h-1zM135,752h1v1h-1zM187,752h1v1h-1zM219,752h1v1h-1zM281,752h1v1h-1zM288,752h1v1h-1zM306,752h1v1h-1zM319,752h1v1h-1zM335,752h4v1h-4zM368,752h1v1h-1zM400,752h1v1h-1zM427,752h1v1h-1zM893,752h1v1h-1zM953,752h6v1h-6zM67,753h1v1h-1zM73,753h3v1h-3zM81,753h8v1h-8zM132,753h1v1h-1zM134,753h1v1h-1zM188,753h1v1h-1zM218,753h1v1h-1zM281,753h1v1h-1zM288,753h1v1h-1zM307,753h1v1h-1zM318,753h1v1h-1zM339,753h4v1h-4zM367,753h1v1h-1zM401,753h1v1h-1zM426,753h1v1h-1zM894,753h1v1h-1zM947,753h6v1h-6zM68,754h1v1h-1zM71,754h2v1h-2zM133,754h1v1h-1zM189,754h1v1h-1zM217,754h1v1h-1zM282,754h1v1h-1zM287,754h1v1h-1zM308,754h1v1h-1zM318,754h1v1h-1zM343,754h4v1h-4zM366,754h1v1h-1zM401,754h1v1h-1zM426,754h1v1h-1zM894,754h1v1h-1zM943,754h4v1h-4zM69,755h2v1h-2zM190,755h1v1h-1zM216,755h1v1h-1zM283,755h1v1h-1zM287,755h1v1h-1zM308,755h1v1h-1zM313,755h5v1h-5zM347,755h3v1h-3zM366,755h1v1h-1zM402,755h1v1h-1zM412,755h2v1h-2zM425,755h1v1h-1zM895,755h1v1h-1zM941,755h2v1h-2zM191,756h1v1h-1zM215,756h1v1h-1zM283,756h1v1h-1zM286,756h1v1h-1zM309,756h4v1h-4zM350,756h2v1h-2zM364,756h2v1h-2zM403,756h1v1h-1zM409,756h3v1h-3zM414,756h1v1h-1zM425,756h1v1h-1zM895,756h1v1h-1zM917,756h4v1h-4zM939,756h2v1h-2zM192,757h1v1h-1zM215,757h1v1h-1zM284,757h1v1h-1zM286,757h1v1h-1zM352,757h2v1h-2zM361,757h3v1h-3zM404,757h1v1h-1zM407,757h2v1h-2zM415,757h1v1h-1zM424,757h1v1h-1zM896,757h1v1h-1zM916,757h1v1h-1zM921,757h6v1h-6zM937,757h2v1h-2zM193,758h2v1h-2zM214,758h1v1h-1zM284,758h2v1h-2zM354,758h2v1h-2zM359,758h2v1h-2zM405,758h2v1h-2zM416,758h1v1h-1zM424,758h1v1h-1zM897,758h1v1h-1zM915,758h1v1h-1zM927,758h2v1h-2zM936,758h1v1h-1zM195,759h1v1h-1zM203,759h11v1h-11zM285,759h1v1h-1zM356,759h3v1h-3zM417,759h1v1h-1zM423,759h1v1h-1zM897,759h1v1h-1zM913,759h2v1h-2zM929,759h3v1h-3zM934,759h2v1h-2zM196,760h1v1h-1zM199,760h4v1h-4zM418,760h1v1h-1zM423,760h1v1h-1zM898,760h1v1h-1zM912,760h1v1h-1zM932,760h2v1h-2zM197,761h2v1h-2zM419,761h1v1h-1zM422,761h1v1h-1zM899,761h1v1h-1zM911,761h1v1h-1zM420,762h1v1h-1zM422,762h1v1h-1zM899,762h1v1h-1zM910,762h1v1h-1zM421,763h1v1h-1zM900,763h1v1h-1zM907,763h3v1h-3zM900,764h1v1h-1zM903,764h4v1h-4zM901,765h2v1h-2z" fill="#1e90ff"/>
</g>
<text transform="translate(9,690) scale(0.97,1)" class="s">RSI(14) 75.2762</text>
</svg></body></html>
